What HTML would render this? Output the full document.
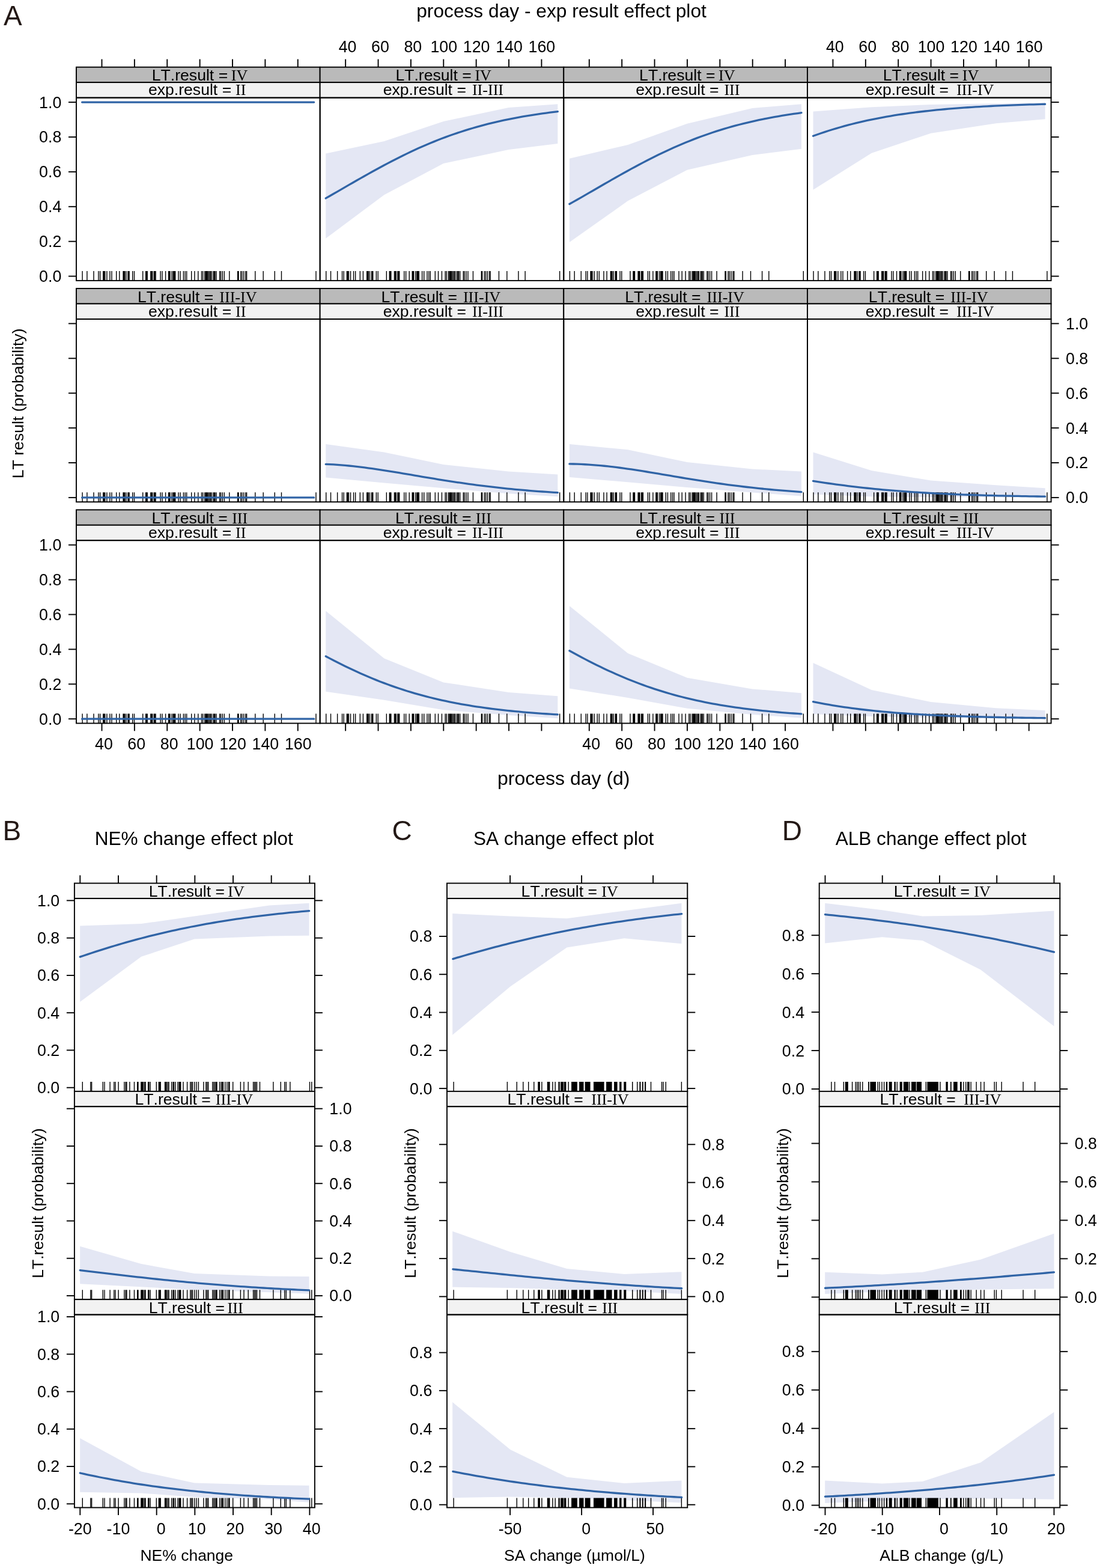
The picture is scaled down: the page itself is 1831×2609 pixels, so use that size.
<!DOCTYPE html>
<html><head><meta charset="utf-8"><title>Effect plots</title>
<style>html,body{margin:0;padding:0;background:#fff;overflow:hidden;} svg{display:block;} text{fill:#000;font-kerning:none;font-feature-settings:'kern' 0;}</style>
</head><body>
<svg width="1831" height="2609" viewBox="0 0 1831 2609"><rect x="127" y="111.7" width="405.65" height="25.45" fill="#bababa" stroke="#000" stroke-width="1.9"/>
<rect x="127" y="137.15" width="405.65" height="25.45" fill="#f2f2f2" stroke="#000" stroke-width="1.9"/>
<path d="M136.4 466.9H137.8V450.9H136.4ZM144.2 466.9H145.6V450.9H144.2ZM155.3 466.9H156.7V450.9H155.3ZM163.2 466.9H164.6V450.9H163.2ZM165.9 466.9H167.3V450.9H165.9ZM171.1 466.9H172.5V450.9H171.1ZM172.5 466.9H173.9V450.9H172.5ZM174.1 466.9H175.5V450.9H174.1ZM177.2 466.9H178.6V450.9H177.2ZM182.2 466.9H183.6V450.9H182.2ZM185.3 466.9H186.7V450.9H185.3ZM193 466.9H194.4V450.9H193ZM198.1 466.9H199.5V450.9H198.1ZM204.4 466.9H205.8V450.9H204.4ZM205.8 466.9H207.2V450.9H205.8ZM207 466.9H208.4V450.9H207ZM209.2 466.9H210.6V450.9H209.2ZM212.3 466.9H213.7V450.9H212.3ZM213.2 466.9H214.6V450.9H213.2ZM214.4 466.9H215.8V450.9H214.4ZM220 466.9H221.4V450.9H220ZM222.8 466.9H224.2V450.9H222.8ZM237 466.9H238.4V450.9H237ZM242 466.9H243.4V450.9H242ZM243.2 466.9H244.6V450.9H243.2ZM244.5 466.9H245.9V450.9H244.5ZM250.1 466.9H251.5V450.9H250.1ZM251.6 466.9H253V450.9H251.6ZM252.9 466.9H254.3V450.9H252.9ZM255.6 466.9H257V450.9H255.6ZM256.9 466.9H258.3V450.9H256.9ZM258.4 466.9H259.8V450.9H258.4ZM266.4 466.9H267.8V450.9H266.4ZM269.3 466.9H270.7V450.9H269.3ZM274.9 466.9H276.3V450.9H274.9ZM279.9 466.9H281.3V450.9H279.9ZM281.1 466.9H282.5V450.9H281.1ZM282.3 466.9H283.7V450.9H282.3ZM285.4 466.9H286.8V450.9H285.4ZM287.6 466.9H289V450.9H287.6ZM288.9 466.9H290.3V450.9H288.9ZM289.8 466.9H291.2V450.9H289.8ZM291 466.9H292.4V450.9H291ZM296.3 466.9H297.7V450.9H296.3ZM299.4 466.9H300.8V450.9H299.4ZM304.7 466.9H306.1V450.9H304.7ZM307.5 466.9H308.9V450.9H307.5ZM310 466.9H311.4V450.9H310ZM318 466.9H319.4V450.9H318ZM323.2 466.9H324.6V450.9H323.2ZM329.1 466.9H330.5V450.9H329.1ZM334.8 466.9H336.2V450.9H334.8ZM337 466.9H338.4V450.9H337ZM340.1 466.9H341.5V450.9H340.1ZM341.8 466.9H343.2V450.9H341.8ZM343.2 466.9H344.6V450.9H343.2ZM344.4 466.9H345.8V450.9H344.4ZM346 466.9H347.4V450.9H346ZM347.9 466.9H349.3V450.9H347.9ZM349.7 466.9H351.1V450.9H349.7ZM351.3 466.9H352.7V450.9H351.3ZM354.1 466.9H355.5V450.9H354.1ZM355.9 466.9H357.3V450.9H355.9ZM357.2 466.9H358.6V450.9H357.2ZM359.3 466.9H360.7V450.9H359.3ZM364.9 466.9H366.3V450.9H364.9ZM366.8 466.9H368.2V450.9H366.8ZM369.6 466.9H371V450.9H369.6ZM372.6 466.9H374V450.9H372.6ZM381.1 466.9H382.5V450.9H381.1ZM395 466.9H396.4V450.9H395ZM396.3 466.9H397.7V450.9H396.3ZM400 466.9H401.4V450.9H400ZM402.2 466.9H403.6V450.9H402.2ZM405 466.9H406.4V450.9H405ZM408.1 466.9H409.5V450.9H408.1ZM409.9 466.9H411.3V450.9H409.9ZM424.1 466.9H425.5V450.9H424.1ZM437.5 466.9H438.9V450.9H437.5ZM456.6 466.9H458V450.9H456.6ZM467.8 466.9H469.2V450.9H467.8ZM525.3 466.9H526.7V450.9H525.3Z" fill="#000" stroke="none"/>
<polyline points="136.6,170.1 143.03,170.1 149.47,170.1 155.91,170.1 162.34,170.1 168.78,170.1 175.21,170.1 181.64,170.1 188.08,170.1 194.51,170.1 200.95,170.1 207.38,170.1 213.82,170.1 220.25,170.1 226.69,170.1 233.12,170.1 239.56,170.1 246,170.1 252.43,170.1 258.87,170.1 265.3,170.1 271.74,170.1 278.17,170.1 284.61,170.1 291.04,170.1 297.48,170.1 303.91,170.1 310.34,170.1 316.78,170.1 323.21,170.1 329.65,170.1 336.08,170.1 342.52,170.1 348.95,170.1 355.39,170.1 361.82,170.1 368.26,170.1 374.69,170.1 381.13,170.1 387.56,170.1 394,170.1 400.44,170.1 406.87,170.1 413.31,170.1 419.74,170.1 426.18,170.1 432.61,170.1 439.04,170.1 445.48,170.1 451.91,170.1 458.35,170.1 464.79,170.1 471.22,170.1 477.66,170.1 484.09,170.1 490.52,170.1 496.96,170.1 503.39,170.1 509.83,170.1 516.26,170.1 522.7,170.1" fill="none" stroke="#3064a6" stroke-width="3.3" stroke-linecap="round" stroke-linejoin="round"/>
<rect x="127" y="162.6" width="405.65" height="304.3" fill="none" stroke="#000" stroke-width="1.9"/>
<text x="252.8" y="134.2" font-size="26.6" font-family="'Liberation Sans', Arial, Helvetica, sans-serif">LT.result =</text>
<text x="384.78" y="134.2" font-size="26.1" font-family="'Liberation Serif', 'Times New Roman', serif">IV</text>
<text x="246.96" y="158.4" font-size="26.6" font-family="'Liberation Sans', Arial, Helvetica, sans-serif">exp.result =</text>
<text x="391.98" y="158.4" font-size="26.1" font-family="'Liberation Serif', 'Times New Roman', serif">II</text>
<rect x="532.65" y="111.7" width="405.65" height="25.45" fill="#bababa" stroke="#000" stroke-width="1.9"/>
<rect x="532.65" y="137.15" width="405.65" height="25.45" fill="#f2f2f2" stroke="#000" stroke-width="1.9"/>
<polygon points="542.25,255.4 639.45,235.1 738.15,202 846.65,179.1 928.35,173.2 928.35,238.9 846.65,249.1 738.15,272 639.45,324.2 542.25,396.7" fill="#e4e7f4" stroke="none"/>
<path d="M542.05 466.9H543.45V450.9H542.05ZM549.85 466.9H551.25V450.9H549.85ZM560.95 466.9H562.35V450.9H560.95ZM568.85 466.9H570.25V450.9H568.85ZM571.55 466.9H572.95V450.9H571.55ZM576.75 466.9H578.15V450.9H576.75ZM578.15 466.9H579.55V450.9H578.15ZM579.75 466.9H581.15V450.9H579.75ZM582.85 466.9H584.25V450.9H582.85ZM587.85 466.9H589.25V450.9H587.85ZM590.95 466.9H592.35V450.9H590.95ZM598.65 466.9H600.05V450.9H598.65ZM603.75 466.9H605.15V450.9H603.75ZM610.05 466.9H611.45V450.9H610.05ZM611.45 466.9H612.85V450.9H611.45ZM612.65 466.9H614.05V450.9H612.65ZM614.85 466.9H616.25V450.9H614.85ZM617.95 466.9H619.35V450.9H617.95ZM618.85 466.9H620.25V450.9H618.85ZM620.05 466.9H621.45V450.9H620.05ZM625.65 466.9H627.05V450.9H625.65ZM628.45 466.9H629.85V450.9H628.45ZM642.65 466.9H644.05V450.9H642.65ZM647.65 466.9H649.05V450.9H647.65ZM648.85 466.9H650.25V450.9H648.85ZM650.15 466.9H651.55V450.9H650.15ZM655.75 466.9H657.15V450.9H655.75ZM657.25 466.9H658.65V450.9H657.25ZM658.55 466.9H659.95V450.9H658.55ZM661.25 466.9H662.65V450.9H661.25ZM662.55 466.9H663.95V450.9H662.55ZM664.05 466.9H665.45V450.9H664.05ZM672.05 466.9H673.45V450.9H672.05ZM674.95 466.9H676.35V450.9H674.95ZM680.55 466.9H681.95V450.9H680.55ZM685.55 466.9H686.95V450.9H685.55ZM686.75 466.9H688.15V450.9H686.75ZM687.95 466.9H689.35V450.9H687.95ZM691.05 466.9H692.45V450.9H691.05ZM693.25 466.9H694.65V450.9H693.25ZM694.55 466.9H695.95V450.9H694.55ZM695.45 466.9H696.85V450.9H695.45ZM696.65 466.9H698.05V450.9H696.65ZM701.95 466.9H703.35V450.9H701.95ZM705.05 466.9H706.45V450.9H705.05ZM710.35 466.9H711.75V450.9H710.35ZM713.15 466.9H714.55V450.9H713.15ZM715.65 466.9H717.05V450.9H715.65ZM723.65 466.9H725.05V450.9H723.65ZM728.85 466.9H730.25V450.9H728.85ZM734.75 466.9H736.15V450.9H734.75ZM740.45 466.9H741.85V450.9H740.45ZM742.65 466.9H744.05V450.9H742.65ZM745.75 466.9H747.15V450.9H745.75ZM747.45 466.9H748.85V450.9H747.45ZM748.85 466.9H750.25V450.9H748.85ZM750.05 466.9H751.45V450.9H750.05ZM751.65 466.9H753.05V450.9H751.65ZM753.55 466.9H754.95V450.9H753.55ZM755.35 466.9H756.75V450.9H755.35ZM756.95 466.9H758.35V450.9H756.95ZM759.75 466.9H761.15V450.9H759.75ZM761.55 466.9H762.95V450.9H761.55ZM762.85 466.9H764.25V450.9H762.85ZM764.95 466.9H766.35V450.9H764.95ZM770.55 466.9H771.95V450.9H770.55ZM772.45 466.9H773.85V450.9H772.45ZM775.25 466.9H776.65V450.9H775.25ZM778.25 466.9H779.65V450.9H778.25ZM786.75 466.9H788.15V450.9H786.75ZM800.65 466.9H802.05V450.9H800.65ZM801.95 466.9H803.35V450.9H801.95ZM805.65 466.9H807.05V450.9H805.65ZM807.85 466.9H809.25V450.9H807.85ZM810.65 466.9H812.05V450.9H810.65ZM813.75 466.9H815.15V450.9H813.75ZM815.55 466.9H816.95V450.9H815.55ZM829.75 466.9H831.15V450.9H829.75ZM843.15 466.9H844.55V450.9H843.15ZM862.25 466.9H863.65V450.9H862.25ZM873.45 466.9H874.85V450.9H873.45ZM930.95 466.9H932.35V450.9H930.95Z" fill="#000" stroke="none"/>
<polyline points="542.25,329.92 548.68,326.24 555.12,322.54 561.55,318.82 567.99,315.11 574.42,311.39 580.86,307.68 587.29,303.98 593.73,300.29 600.16,296.62 606.6,292.98 613.03,289.36 619.47,285.77 625.9,282.23 632.34,278.72 638.77,275.26 645.21,271.84 651.64,268.48 658.08,265.17 664.51,261.92 670.95,258.73 677.38,255.61 683.82,252.55 690.25,249.55 696.69,246.62 703.12,243.77 709.56,240.98 715.99,238.27 722.43,235.63 728.87,233.06 735.3,230.57 741.73,228.15 748.17,225.8 754.61,223.53 761.04,221.33 767.47,219.2 773.91,217.14 780.34,215.15 786.78,213.23 793.21,211.38 799.65,209.6 806.09,207.88 812.52,206.22 818.95,204.63 825.39,203.1 831.83,201.63 838.26,200.21 844.69,198.85 851.13,197.55 857.56,196.3 864,195.1 870.43,193.95 876.87,192.85 883.31,191.8 889.74,190.79 896.17,189.83 902.61,188.9 909.04,188.02 915.48,187.18 921.91,186.37 928.35,185.6" fill="none" stroke="#3064a6" stroke-width="3.3" stroke-linecap="round" stroke-linejoin="round"/>
<rect x="532.65" y="162.6" width="405.65" height="304.3" fill="none" stroke="#000" stroke-width="1.9"/>
<text x="658.45" y="134.2" font-size="26.6" font-family="'Liberation Sans', Arial, Helvetica, sans-serif">LT.result =</text>
<text x="790.43" y="134.2" font-size="26.1" font-family="'Liberation Serif', 'Times New Roman', serif">IV</text>
<text x="637.71" y="158.4" font-size="26.6" font-family="'Liberation Sans', Arial, Helvetica, sans-serif">exp.result =</text>
<text x="785.93" y="158.4" font-size="26.1" font-family="'Liberation Serif', 'Times New Roman', serif">II-III</text>
<rect x="938.3" y="111.7" width="405.65" height="25.45" fill="#bababa" stroke="#000" stroke-width="1.9"/>
<rect x="938.3" y="137.15" width="405.65" height="25.45" fill="#f2f2f2" stroke="#000" stroke-width="1.9"/>
<polygon points="947.9,263.8 1045.1,240.9 1143.8,205.8 1252.3,179.9 1334,173.2 1334,247.8 1252.3,258 1143.8,282.7 1045.1,334.3 947.9,403.1" fill="#e4e7f4" stroke="none"/>
<path d="M947.7 466.9H949.1V450.9H947.7ZM955.5 466.9H956.9V450.9H955.5ZM966.6 466.9H968V450.9H966.6ZM974.5 466.9H975.9V450.9H974.5ZM977.2 466.9H978.6V450.9H977.2ZM982.4 466.9H983.8V450.9H982.4ZM983.8 466.9H985.2V450.9H983.8ZM985.4 466.9H986.8V450.9H985.4ZM988.5 466.9H989.9V450.9H988.5ZM993.5 466.9H994.9V450.9H993.5ZM996.6 466.9H998V450.9H996.6ZM1004.3 466.9H1005.7V450.9H1004.3ZM1009.4 466.9H1010.8V450.9H1009.4ZM1015.7 466.9H1017.1V450.9H1015.7ZM1017.1 466.9H1018.5V450.9H1017.1ZM1018.3 466.9H1019.7V450.9H1018.3ZM1020.5 466.9H1021.9V450.9H1020.5ZM1023.6 466.9H1025V450.9H1023.6ZM1024.5 466.9H1025.9V450.9H1024.5ZM1025.7 466.9H1027.1V450.9H1025.7ZM1031.3 466.9H1032.7V450.9H1031.3ZM1034.1 466.9H1035.5V450.9H1034.1ZM1048.3 466.9H1049.7V450.9H1048.3ZM1053.3 466.9H1054.7V450.9H1053.3ZM1054.5 466.9H1055.9V450.9H1054.5ZM1055.8 466.9H1057.2V450.9H1055.8ZM1061.4 466.9H1062.8V450.9H1061.4ZM1062.9 466.9H1064.3V450.9H1062.9ZM1064.2 466.9H1065.6V450.9H1064.2ZM1066.9 466.9H1068.3V450.9H1066.9ZM1068.2 466.9H1069.6V450.9H1068.2ZM1069.7 466.9H1071.1V450.9H1069.7ZM1077.7 466.9H1079.1V450.9H1077.7ZM1080.6 466.9H1082V450.9H1080.6ZM1086.2 466.9H1087.6V450.9H1086.2ZM1091.2 466.9H1092.6V450.9H1091.2ZM1092.4 466.9H1093.8V450.9H1092.4ZM1093.6 466.9H1095V450.9H1093.6ZM1096.7 466.9H1098.1V450.9H1096.7ZM1098.9 466.9H1100.3V450.9H1098.9ZM1100.2 466.9H1101.6V450.9H1100.2ZM1101.1 466.9H1102.5V450.9H1101.1ZM1102.3 466.9H1103.7V450.9H1102.3ZM1107.6 466.9H1109V450.9H1107.6ZM1110.7 466.9H1112.1V450.9H1110.7ZM1116 466.9H1117.4V450.9H1116ZM1118.8 466.9H1120.2V450.9H1118.8ZM1121.3 466.9H1122.7V450.9H1121.3ZM1129.3 466.9H1130.7V450.9H1129.3ZM1134.5 466.9H1135.9V450.9H1134.5ZM1140.4 466.9H1141.8V450.9H1140.4ZM1146.1 466.9H1147.5V450.9H1146.1ZM1148.3 466.9H1149.7V450.9H1148.3ZM1151.4 466.9H1152.8V450.9H1151.4ZM1153.1 466.9H1154.5V450.9H1153.1ZM1154.5 466.9H1155.9V450.9H1154.5ZM1155.7 466.9H1157.1V450.9H1155.7ZM1157.3 466.9H1158.7V450.9H1157.3ZM1159.2 466.9H1160.6V450.9H1159.2ZM1161 466.9H1162.4V450.9H1161ZM1162.6 466.9H1164V450.9H1162.6ZM1165.4 466.9H1166.8V450.9H1165.4ZM1167.2 466.9H1168.6V450.9H1167.2ZM1168.5 466.9H1169.9V450.9H1168.5ZM1170.6 466.9H1172V450.9H1170.6ZM1176.2 466.9H1177.6V450.9H1176.2ZM1178.1 466.9H1179.5V450.9H1178.1ZM1180.9 466.9H1182.3V450.9H1180.9ZM1183.9 466.9H1185.3V450.9H1183.9ZM1192.4 466.9H1193.8V450.9H1192.4ZM1206.3 466.9H1207.7V450.9H1206.3ZM1207.6 466.9H1209V450.9H1207.6ZM1211.3 466.9H1212.7V450.9H1211.3ZM1213.5 466.9H1214.9V450.9H1213.5ZM1216.3 466.9H1217.7V450.9H1216.3ZM1219.4 466.9H1220.8V450.9H1219.4ZM1221.2 466.9H1222.6V450.9H1221.2ZM1235.4 466.9H1236.8V450.9H1235.4ZM1248.8 466.9H1250.2V450.9H1248.8ZM1267.9 466.9H1269.3V450.9H1267.9ZM1279.1 466.9H1280.5V450.9H1279.1ZM1336.6 466.9H1338V450.9H1336.6Z" fill="#000" stroke="none"/>
<polyline points="947.9,339.5 954.33,335.88 960.77,332.23 967.2,328.56 973.64,324.86 980.07,321.16 986.51,317.45 992.94,313.73 999.38,310.01 1005.81,306.3 1012.25,302.61 1018.68,298.93 1025.12,295.26 1031.55,291.63 1037.99,288.02 1044.42,284.45 1050.86,280.92 1057.29,277.43 1063.73,273.98 1070.16,270.59 1076.6,267.25 1083.03,263.96 1089.47,260.73 1095.9,257.56 1102.34,254.46 1108.77,251.43 1115.21,248.46 1121.64,245.56 1128.08,242.73 1134.51,239.97 1140.95,237.28 1147.38,234.67 1153.82,232.13 1160.25,229.66 1166.69,227.27 1173.12,224.95 1179.56,222.7 1185.99,220.53 1192.43,218.43 1198.87,216.39 1205.3,214.43 1211.73,212.54 1218.17,210.71 1224.61,208.95 1231.04,207.25 1237.47,205.62 1243.91,204.05 1250.34,202.54 1256.78,201.09 1263.21,199.7 1269.65,198.36 1276.09,197.08 1282.52,195.85 1288.95,194.67 1295.39,193.54 1301.82,192.46 1308.26,191.42 1314.69,190.43 1321.13,189.48 1327.57,188.57 1334,187.7" fill="none" stroke="#3064a6" stroke-width="3.3" stroke-linecap="round" stroke-linejoin="round"/>
<rect x="938.3" y="162.6" width="405.65" height="304.3" fill="none" stroke="#000" stroke-width="1.9"/>
<text x="1064.1" y="134.2" font-size="26.6" font-family="'Liberation Sans', Arial, Helvetica, sans-serif">LT.result =</text>
<text x="1196.08" y="134.2" font-size="26.1" font-family="'Liberation Serif', 'Times New Roman', serif">IV</text>
<text x="1058.26" y="158.4" font-size="26.6" font-family="'Liberation Sans', Arial, Helvetica, sans-serif">exp.result =</text>
<text x="1205.38" y="158.4" font-size="26.1" font-family="'Liberation Serif', 'Times New Roman', serif">III</text>
<rect x="1343.95" y="111.7" width="405.65" height="25.45" fill="#bababa" stroke="#000" stroke-width="1.9"/>
<rect x="1343.95" y="137.15" width="405.65" height="25.45" fill="#f2f2f2" stroke="#000" stroke-width="1.9"/>
<polygon points="1353.55,185.5 1450.75,178.3 1549.45,174 1657.95,172.2 1739.65,171.5 1739.65,198.2 1657.95,205.3 1549.45,221.8 1450.75,254.7 1353.55,315.8" fill="#e4e7f4" stroke="none"/>
<path d="M1353.35 466.9H1354.75V450.9H1353.35ZM1361.15 466.9H1362.55V450.9H1361.15ZM1372.25 466.9H1373.65V450.9H1372.25ZM1380.15 466.9H1381.55V450.9H1380.15ZM1382.85 466.9H1384.25V450.9H1382.85ZM1388.05 466.9H1389.45V450.9H1388.05ZM1389.45 466.9H1390.85V450.9H1389.45ZM1391.05 466.9H1392.45V450.9H1391.05ZM1394.15 466.9H1395.55V450.9H1394.15ZM1399.15 466.9H1400.55V450.9H1399.15ZM1402.25 466.9H1403.65V450.9H1402.25ZM1409.95 466.9H1411.35V450.9H1409.95ZM1415.05 466.9H1416.45V450.9H1415.05ZM1421.35 466.9H1422.75V450.9H1421.35ZM1422.75 466.9H1424.15V450.9H1422.75ZM1423.95 466.9H1425.35V450.9H1423.95ZM1426.15 466.9H1427.55V450.9H1426.15ZM1429.25 466.9H1430.65V450.9H1429.25ZM1430.15 466.9H1431.55V450.9H1430.15ZM1431.35 466.9H1432.75V450.9H1431.35ZM1436.95 466.9H1438.35V450.9H1436.95ZM1439.75 466.9H1441.15V450.9H1439.75ZM1453.95 466.9H1455.35V450.9H1453.95ZM1458.95 466.9H1460.35V450.9H1458.95ZM1460.15 466.9H1461.55V450.9H1460.15ZM1461.45 466.9H1462.85V450.9H1461.45ZM1467.05 466.9H1468.45V450.9H1467.05ZM1468.55 466.9H1469.95V450.9H1468.55ZM1469.85 466.9H1471.25V450.9H1469.85ZM1472.55 466.9H1473.95V450.9H1472.55ZM1473.85 466.9H1475.25V450.9H1473.85ZM1475.35 466.9H1476.75V450.9H1475.35ZM1483.35 466.9H1484.75V450.9H1483.35ZM1486.25 466.9H1487.65V450.9H1486.25ZM1491.85 466.9H1493.25V450.9H1491.85ZM1496.85 466.9H1498.25V450.9H1496.85ZM1498.05 466.9H1499.45V450.9H1498.05ZM1499.25 466.9H1500.65V450.9H1499.25ZM1502.35 466.9H1503.75V450.9H1502.35ZM1504.55 466.9H1505.95V450.9H1504.55ZM1505.85 466.9H1507.25V450.9H1505.85ZM1506.75 466.9H1508.15V450.9H1506.75ZM1507.95 466.9H1509.35V450.9H1507.95ZM1513.25 466.9H1514.65V450.9H1513.25ZM1516.35 466.9H1517.75V450.9H1516.35ZM1521.65 466.9H1523.05V450.9H1521.65ZM1524.45 466.9H1525.85V450.9H1524.45ZM1526.95 466.9H1528.35V450.9H1526.95ZM1534.95 466.9H1536.35V450.9H1534.95ZM1540.15 466.9H1541.55V450.9H1540.15ZM1546.05 466.9H1547.45V450.9H1546.05ZM1551.75 466.9H1553.15V450.9H1551.75ZM1553.95 466.9H1555.35V450.9H1553.95ZM1557.05 466.9H1558.45V450.9H1557.05ZM1558.75 466.9H1560.15V450.9H1558.75ZM1560.15 466.9H1561.55V450.9H1560.15ZM1561.35 466.9H1562.75V450.9H1561.35ZM1562.95 466.9H1564.35V450.9H1562.95ZM1564.85 466.9H1566.25V450.9H1564.85ZM1566.65 466.9H1568.05V450.9H1566.65ZM1568.25 466.9H1569.65V450.9H1568.25ZM1571.05 466.9H1572.45V450.9H1571.05ZM1572.85 466.9H1574.25V450.9H1572.85ZM1574.15 466.9H1575.55V450.9H1574.15ZM1576.25 466.9H1577.65V450.9H1576.25ZM1581.85 466.9H1583.25V450.9H1581.85ZM1583.75 466.9H1585.15V450.9H1583.75ZM1586.55 466.9H1587.95V450.9H1586.55ZM1589.55 466.9H1590.95V450.9H1589.55ZM1598.05 466.9H1599.45V450.9H1598.05ZM1611.95 466.9H1613.35V450.9H1611.95ZM1613.25 466.9H1614.65V450.9H1613.25ZM1616.95 466.9H1618.35V450.9H1616.95ZM1619.15 466.9H1620.55V450.9H1619.15ZM1621.95 466.9H1623.35V450.9H1621.95ZM1625.05 466.9H1626.45V450.9H1625.05ZM1626.85 466.9H1628.25V450.9H1626.85ZM1641.05 466.9H1642.45V450.9H1641.05ZM1654.45 466.9H1655.85V450.9H1654.45ZM1673.55 466.9H1674.95V450.9H1673.55ZM1684.75 466.9H1686.15V450.9H1684.75ZM1742.25 466.9H1743.65V450.9H1742.25Z" fill="#000" stroke="none"/>
<polyline points="1353.55,226.23 1359.98,223.94 1366.42,221.73 1372.85,219.58 1379.29,217.51 1385.72,215.51 1392.16,213.58 1398.59,211.72 1405.03,209.92 1411.46,208.19 1417.9,206.52 1424.33,204.92 1430.77,203.37 1437.2,201.89 1443.64,200.47 1450.07,199.1 1456.51,197.79 1462.94,196.53 1469.38,195.32 1475.81,194.16 1482.25,193.05 1488.68,191.99 1495.12,190.97 1501.55,190 1507.99,189.07 1514.42,188.18 1520.86,187.33 1527.29,186.51 1533.73,185.74 1540.16,184.99 1546.6,184.29 1553.03,183.61 1559.47,182.96 1565.9,182.35 1572.34,181.76 1578.77,181.2 1585.21,180.66 1591.64,180.15 1598.08,179.66 1604.51,179.2 1610.95,178.76 1617.38,178.34 1623.82,177.94 1630.25,177.55 1636.69,177.19 1643.12,176.84 1649.56,176.51 1655.99,176.2 1662.43,175.9 1668.86,175.61 1675.3,175.34 1681.73,175.09 1688.17,174.84 1694.6,174.61 1701.04,174.38 1707.47,174.17 1713.91,173.97 1720.34,173.78 1726.78,173.6 1733.21,173.43 1739.65,173.26" fill="none" stroke="#3064a6" stroke-width="3.3" stroke-linecap="round" stroke-linejoin="round"/>
<rect x="1343.95" y="162.6" width="405.65" height="304.3" fill="none" stroke="#000" stroke-width="1.9"/>
<text x="1469.75" y="134.2" font-size="26.6" font-family="'Liberation Sans', Arial, Helvetica, sans-serif">LT.result =</text>
<text x="1601.73" y="134.2" font-size="26.1" font-family="'Liberation Serif', 'Times New Roman', serif">IV</text>
<text x="1440.81" y="158.4" font-size="26.6" font-family="'Liberation Sans', Arial, Helvetica, sans-serif">exp.result =</text>
<text x="1592.13" y="158.4" font-size="26.1" font-family="'Liberation Serif', 'Times New Roman', serif">III-IV</text>
<rect x="127" y="480" width="405.65" height="25.45" fill="#bababa" stroke="#000" stroke-width="1.9"/>
<rect x="127" y="505.45" width="405.65" height="25.45" fill="#f2f2f2" stroke="#000" stroke-width="1.9"/>
<path d="M136.4 835.2H137.8V819.2H136.4ZM144.2 835.2H145.6V819.2H144.2ZM155.3 835.2H156.7V819.2H155.3ZM163.2 835.2H164.6V819.2H163.2ZM165.9 835.2H167.3V819.2H165.9ZM171.1 835.2H172.5V819.2H171.1ZM172.5 835.2H173.9V819.2H172.5ZM174.1 835.2H175.5V819.2H174.1ZM177.2 835.2H178.6V819.2H177.2ZM182.2 835.2H183.6V819.2H182.2ZM185.3 835.2H186.7V819.2H185.3ZM193 835.2H194.4V819.2H193ZM198.1 835.2H199.5V819.2H198.1ZM204.4 835.2H205.8V819.2H204.4ZM205.8 835.2H207.2V819.2H205.8ZM207 835.2H208.4V819.2H207ZM209.2 835.2H210.6V819.2H209.2ZM212.3 835.2H213.7V819.2H212.3ZM213.2 835.2H214.6V819.2H213.2ZM214.4 835.2H215.8V819.2H214.4ZM220 835.2H221.4V819.2H220ZM222.8 835.2H224.2V819.2H222.8ZM237 835.2H238.4V819.2H237ZM242 835.2H243.4V819.2H242ZM243.2 835.2H244.6V819.2H243.2ZM244.5 835.2H245.9V819.2H244.5ZM250.1 835.2H251.5V819.2H250.1ZM251.6 835.2H253V819.2H251.6ZM252.9 835.2H254.3V819.2H252.9ZM255.6 835.2H257V819.2H255.6ZM256.9 835.2H258.3V819.2H256.9ZM258.4 835.2H259.8V819.2H258.4ZM266.4 835.2H267.8V819.2H266.4ZM269.3 835.2H270.7V819.2H269.3ZM274.9 835.2H276.3V819.2H274.9ZM279.9 835.2H281.3V819.2H279.9ZM281.1 835.2H282.5V819.2H281.1ZM282.3 835.2H283.7V819.2H282.3ZM285.4 835.2H286.8V819.2H285.4ZM287.6 835.2H289V819.2H287.6ZM288.9 835.2H290.3V819.2H288.9ZM289.8 835.2H291.2V819.2H289.8ZM291 835.2H292.4V819.2H291ZM296.3 835.2H297.7V819.2H296.3ZM299.4 835.2H300.8V819.2H299.4ZM304.7 835.2H306.1V819.2H304.7ZM307.5 835.2H308.9V819.2H307.5ZM310 835.2H311.4V819.2H310ZM318 835.2H319.4V819.2H318ZM323.2 835.2H324.6V819.2H323.2ZM329.1 835.2H330.5V819.2H329.1ZM334.8 835.2H336.2V819.2H334.8ZM337 835.2H338.4V819.2H337ZM340.1 835.2H341.5V819.2H340.1ZM341.8 835.2H343.2V819.2H341.8ZM343.2 835.2H344.6V819.2H343.2ZM344.4 835.2H345.8V819.2H344.4ZM346 835.2H347.4V819.2H346ZM347.9 835.2H349.3V819.2H347.9ZM349.7 835.2H351.1V819.2H349.7ZM351.3 835.2H352.7V819.2H351.3ZM354.1 835.2H355.5V819.2H354.1ZM355.9 835.2H357.3V819.2H355.9ZM357.2 835.2H358.6V819.2H357.2ZM359.3 835.2H360.7V819.2H359.3ZM364.9 835.2H366.3V819.2H364.9ZM366.8 835.2H368.2V819.2H366.8ZM369.6 835.2H371V819.2H369.6ZM372.6 835.2H374V819.2H372.6ZM381.1 835.2H382.5V819.2H381.1ZM395 835.2H396.4V819.2H395ZM396.3 835.2H397.7V819.2H396.3ZM400 835.2H401.4V819.2H400ZM402.2 835.2H403.6V819.2H402.2ZM405 835.2H406.4V819.2H405ZM408.1 835.2H409.5V819.2H408.1ZM409.9 835.2H411.3V819.2H409.9ZM424.1 835.2H425.5V819.2H424.1ZM437.5 835.2H438.9V819.2H437.5ZM456.6 835.2H458V819.2H456.6ZM467.8 835.2H469.2V819.2H467.8ZM525.3 835.2H526.7V819.2H525.3Z" fill="#000" stroke="none"/>
<polyline points="136.6,827.9 143.03,827.9 149.47,827.9 155.91,827.9 162.34,827.9 168.78,827.9 175.21,827.9 181.64,827.9 188.08,827.9 194.51,827.9 200.95,827.9 207.38,827.9 213.82,827.9 220.25,827.9 226.69,827.9 233.12,827.9 239.56,827.9 246,827.9 252.43,827.9 258.87,827.9 265.3,827.9 271.74,827.9 278.17,827.9 284.61,827.9 291.04,827.9 297.48,827.9 303.91,827.9 310.34,827.9 316.78,827.9 323.21,827.9 329.65,827.9 336.08,827.9 342.52,827.9 348.95,827.9 355.39,827.9 361.82,827.9 368.26,827.9 374.69,827.9 381.13,827.9 387.56,827.9 394,827.9 400.44,827.9 406.87,827.9 413.31,827.9 419.74,827.9 426.18,827.9 432.61,827.9 439.04,827.9 445.48,827.9 451.91,827.9 458.35,827.9 464.79,827.9 471.22,827.9 477.66,827.9 484.09,827.9 490.52,827.9 496.96,827.9 503.39,827.9 509.83,827.9 516.26,827.9 522.7,827.9" fill="none" stroke="#3064a6" stroke-width="3.3" stroke-linecap="round" stroke-linejoin="round"/>
<rect x="127" y="530.9" width="405.65" height="304.3" fill="none" stroke="#000" stroke-width="1.9"/>
<text x="228.9" y="502.5" font-size="26.6" font-family="'Liberation Sans', Arial, Helvetica, sans-serif">LT.result =</text>
<text x="365.28" y="502.5" font-size="26.1" font-family="'Liberation Serif', 'Times New Roman', serif">III-IV</text>
<text x="246.96" y="526.7" font-size="26.6" font-family="'Liberation Sans', Arial, Helvetica, sans-serif">exp.result =</text>
<text x="391.98" y="526.7" font-size="26.1" font-family="'Liberation Serif', 'Times New Roman', serif">II</text>
<rect x="532.65" y="480" width="405.65" height="25.45" fill="#bababa" stroke="#000" stroke-width="1.9"/>
<rect x="532.65" y="505.45" width="405.65" height="25.45" fill="#f2f2f2" stroke="#000" stroke-width="1.9"/>
<polygon points="542.25,739 639.45,752.5 738.15,772.9 846.65,784.4 928.35,789.4 928.35,826.3 846.65,821.3 738.15,812.3 639.45,803.4 542.25,794.5" fill="#e4e7f4" stroke="none"/>
<path d="M542.05 835.2H543.45V819.2H542.05ZM549.85 835.2H551.25V819.2H549.85ZM560.95 835.2H562.35V819.2H560.95ZM568.85 835.2H570.25V819.2H568.85ZM571.55 835.2H572.95V819.2H571.55ZM576.75 835.2H578.15V819.2H576.75ZM578.15 835.2H579.55V819.2H578.15ZM579.75 835.2H581.15V819.2H579.75ZM582.85 835.2H584.25V819.2H582.85ZM587.85 835.2H589.25V819.2H587.85ZM590.95 835.2H592.35V819.2H590.95ZM598.65 835.2H600.05V819.2H598.65ZM603.75 835.2H605.15V819.2H603.75ZM610.05 835.2H611.45V819.2H610.05ZM611.45 835.2H612.85V819.2H611.45ZM612.65 835.2H614.05V819.2H612.65ZM614.85 835.2H616.25V819.2H614.85ZM617.95 835.2H619.35V819.2H617.95ZM618.85 835.2H620.25V819.2H618.85ZM620.05 835.2H621.45V819.2H620.05ZM625.65 835.2H627.05V819.2H625.65ZM628.45 835.2H629.85V819.2H628.45ZM642.65 835.2H644.05V819.2H642.65ZM647.65 835.2H649.05V819.2H647.65ZM648.85 835.2H650.25V819.2H648.85ZM650.15 835.2H651.55V819.2H650.15ZM655.75 835.2H657.15V819.2H655.75ZM657.25 835.2H658.65V819.2H657.25ZM658.55 835.2H659.95V819.2H658.55ZM661.25 835.2H662.65V819.2H661.25ZM662.55 835.2H663.95V819.2H662.55ZM664.05 835.2H665.45V819.2H664.05ZM672.05 835.2H673.45V819.2H672.05ZM674.95 835.2H676.35V819.2H674.95ZM680.55 835.2H681.95V819.2H680.55ZM685.55 835.2H686.95V819.2H685.55ZM686.75 835.2H688.15V819.2H686.75ZM687.95 835.2H689.35V819.2H687.95ZM691.05 835.2H692.45V819.2H691.05ZM693.25 835.2H694.65V819.2H693.25ZM694.55 835.2H695.95V819.2H694.55ZM695.45 835.2H696.85V819.2H695.45ZM696.65 835.2H698.05V819.2H696.65ZM701.95 835.2H703.35V819.2H701.95ZM705.05 835.2H706.45V819.2H705.05ZM710.35 835.2H711.75V819.2H710.35ZM713.15 835.2H714.55V819.2H713.15ZM715.65 835.2H717.05V819.2H715.65ZM723.65 835.2H725.05V819.2H723.65ZM728.85 835.2H730.25V819.2H728.85ZM734.75 835.2H736.15V819.2H734.75ZM740.45 835.2H741.85V819.2H740.45ZM742.65 835.2H744.05V819.2H742.65ZM745.75 835.2H747.15V819.2H745.75ZM747.45 835.2H748.85V819.2H747.45ZM748.85 835.2H750.25V819.2H748.85ZM750.05 835.2H751.45V819.2H750.05ZM751.65 835.2H753.05V819.2H751.65ZM753.55 835.2H754.95V819.2H753.55ZM755.35 835.2H756.75V819.2H755.35ZM756.95 835.2H758.35V819.2H756.95ZM759.75 835.2H761.15V819.2H759.75ZM761.55 835.2H762.95V819.2H761.55ZM762.85 835.2H764.25V819.2H762.85ZM764.95 835.2H766.35V819.2H764.95ZM770.55 835.2H771.95V819.2H770.55ZM772.45 835.2H773.85V819.2H772.45ZM775.25 835.2H776.65V819.2H775.25ZM778.25 835.2H779.65V819.2H778.25ZM786.75 835.2H788.15V819.2H786.75ZM800.65 835.2H802.05V819.2H800.65ZM801.95 835.2H803.35V819.2H801.95ZM805.65 835.2H807.05V819.2H805.65ZM807.85 835.2H809.25V819.2H807.85ZM810.65 835.2H812.05V819.2H810.65ZM813.75 835.2H815.15V819.2H813.75ZM815.55 835.2H816.95V819.2H815.55ZM829.75 835.2H831.15V819.2H829.75ZM843.15 835.2H844.55V819.2H843.15ZM862.25 835.2H863.65V819.2H862.25ZM873.45 835.2H874.85V819.2H873.45ZM930.95 835.2H932.35V819.2H930.95Z" fill="#000" stroke="none"/>
<polyline points="542.25,772.32 548.68,772.61 555.12,772.96 561.55,773.38 567.99,773.86 574.42,774.4 580.86,775.01 587.29,775.66 593.73,776.38 600.16,777.14 606.6,777.95 613.03,778.8 619.47,779.69 625.9,780.62 632.34,781.58 638.77,782.56 645.21,783.58 651.64,784.61 658.08,785.66 664.51,786.73 670.95,787.81 677.38,788.9 683.82,789.99 690.25,791.08 696.69,792.18 703.12,793.26 709.56,794.35 715.99,795.42 722.43,796.49 728.87,797.54 735.3,798.57 741.73,799.6 748.17,800.6 754.61,801.58 761.04,802.55 767.47,803.49 773.91,804.42 780.34,805.32 786.78,806.2 793.21,807.05 799.65,807.88 806.09,808.69 812.52,809.47 818.95,810.23 825.39,810.96 831.83,811.67 838.26,812.36 844.69,813.02 851.13,813.66 857.56,814.28 864,814.88 870.43,815.45 876.87,816 883.31,816.53 889.74,817.04 896.17,817.53 902.61,818 909.04,818.45 915.48,818.88 921.91,819.29 928.35,819.69" fill="none" stroke="#3064a6" stroke-width="3.3" stroke-linecap="round" stroke-linejoin="round"/>
<rect x="532.65" y="530.9" width="405.65" height="304.3" fill="none" stroke="#000" stroke-width="1.9"/>
<text x="634.55" y="502.5" font-size="26.6" font-family="'Liberation Sans', Arial, Helvetica, sans-serif">LT.result =</text>
<text x="770.93" y="502.5" font-size="26.1" font-family="'Liberation Serif', 'Times New Roman', serif">III-IV</text>
<text x="637.71" y="526.7" font-size="26.6" font-family="'Liberation Sans', Arial, Helvetica, sans-serif">exp.result =</text>
<text x="785.93" y="526.7" font-size="26.1" font-family="'Liberation Serif', 'Times New Roman', serif">II-III</text>
<rect x="938.3" y="480" width="405.65" height="25.45" fill="#bababa" stroke="#000" stroke-width="1.9"/>
<rect x="938.3" y="505.45" width="405.65" height="25.45" fill="#f2f2f2" stroke="#000" stroke-width="1.9"/>
<polygon points="947.9,739 1045.1,748.2 1143.8,769.1 1252.3,780.5 1334,784.4 1334,825.6 1252.3,819.5 1143.8,811.1 1045.1,802.2 947.9,794" fill="#e4e7f4" stroke="none"/>
<path d="M947.7 835.2H949.1V819.2H947.7ZM955.5 835.2H956.9V819.2H955.5ZM966.6 835.2H968V819.2H966.6ZM974.5 835.2H975.9V819.2H974.5ZM977.2 835.2H978.6V819.2H977.2ZM982.4 835.2H983.8V819.2H982.4ZM983.8 835.2H985.2V819.2H983.8ZM985.4 835.2H986.8V819.2H985.4ZM988.5 835.2H989.9V819.2H988.5ZM993.5 835.2H994.9V819.2H993.5ZM996.6 835.2H998V819.2H996.6ZM1004.3 835.2H1005.7V819.2H1004.3ZM1009.4 835.2H1010.8V819.2H1009.4ZM1015.7 835.2H1017.1V819.2H1015.7ZM1017.1 835.2H1018.5V819.2H1017.1ZM1018.3 835.2H1019.7V819.2H1018.3ZM1020.5 835.2H1021.9V819.2H1020.5ZM1023.6 835.2H1025V819.2H1023.6ZM1024.5 835.2H1025.9V819.2H1024.5ZM1025.7 835.2H1027.1V819.2H1025.7ZM1031.3 835.2H1032.7V819.2H1031.3ZM1034.1 835.2H1035.5V819.2H1034.1ZM1048.3 835.2H1049.7V819.2H1048.3ZM1053.3 835.2H1054.7V819.2H1053.3ZM1054.5 835.2H1055.9V819.2H1054.5ZM1055.8 835.2H1057.2V819.2H1055.8ZM1061.4 835.2H1062.8V819.2H1061.4ZM1062.9 835.2H1064.3V819.2H1062.9ZM1064.2 835.2H1065.6V819.2H1064.2ZM1066.9 835.2H1068.3V819.2H1066.9ZM1068.2 835.2H1069.6V819.2H1068.2ZM1069.7 835.2H1071.1V819.2H1069.7ZM1077.7 835.2H1079.1V819.2H1077.7ZM1080.6 835.2H1082V819.2H1080.6ZM1086.2 835.2H1087.6V819.2H1086.2ZM1091.2 835.2H1092.6V819.2H1091.2ZM1092.4 835.2H1093.8V819.2H1092.4ZM1093.6 835.2H1095V819.2H1093.6ZM1096.7 835.2H1098.1V819.2H1096.7ZM1098.9 835.2H1100.3V819.2H1098.9ZM1100.2 835.2H1101.6V819.2H1100.2ZM1101.1 835.2H1102.5V819.2H1101.1ZM1102.3 835.2H1103.7V819.2H1102.3ZM1107.6 835.2H1109V819.2H1107.6ZM1110.7 835.2H1112.1V819.2H1110.7ZM1116 835.2H1117.4V819.2H1116ZM1118.8 835.2H1120.2V819.2H1118.8ZM1121.3 835.2H1122.7V819.2H1121.3ZM1129.3 835.2H1130.7V819.2H1129.3ZM1134.5 835.2H1135.9V819.2H1134.5ZM1140.4 835.2H1141.8V819.2H1140.4ZM1146.1 835.2H1147.5V819.2H1146.1ZM1148.3 835.2H1149.7V819.2H1148.3ZM1151.4 835.2H1152.8V819.2H1151.4ZM1153.1 835.2H1154.5V819.2H1153.1ZM1154.5 835.2H1155.9V819.2H1154.5ZM1155.7 835.2H1157.1V819.2H1155.7ZM1157.3 835.2H1158.7V819.2H1157.3ZM1159.2 835.2H1160.6V819.2H1159.2ZM1161 835.2H1162.4V819.2H1161ZM1162.6 835.2H1164V819.2H1162.6ZM1165.4 835.2H1166.8V819.2H1165.4ZM1167.2 835.2H1168.6V819.2H1167.2ZM1168.5 835.2H1169.9V819.2H1168.5ZM1170.6 835.2H1172V819.2H1170.6ZM1176.2 835.2H1177.6V819.2H1176.2ZM1178.1 835.2H1179.5V819.2H1178.1ZM1180.9 835.2H1182.3V819.2H1180.9ZM1183.9 835.2H1185.3V819.2H1183.9ZM1192.4 835.2H1193.8V819.2H1192.4ZM1206.3 835.2H1207.7V819.2H1206.3ZM1207.6 835.2H1209V819.2H1207.6ZM1211.3 835.2H1212.7V819.2H1211.3ZM1213.5 835.2H1214.9V819.2H1213.5ZM1216.3 835.2H1217.7V819.2H1216.3ZM1219.4 835.2H1220.8V819.2H1219.4ZM1221.2 835.2H1222.6V819.2H1221.2ZM1235.4 835.2H1236.8V819.2H1235.4ZM1248.8 835.2H1250.2V819.2H1248.8ZM1267.9 835.2H1269.3V819.2H1267.9ZM1279.1 835.2H1280.5V819.2H1279.1ZM1336.6 835.2H1338V819.2H1336.6Z" fill="#000" stroke="none"/>
<polyline points="947.9,771.9 954.33,772.01 960.77,772.18 967.2,772.42 973.64,772.73 980.07,773.11 986.51,773.55 992.94,774.06 999.38,774.62 1005.81,775.24 1012.25,775.92 1018.68,776.65 1025.12,777.43 1031.55,778.26 1037.99,779.12 1044.42,780.03 1050.86,780.97 1057.29,781.94 1063.73,782.94 1070.16,783.96 1076.6,785 1083.03,786.06 1089.47,787.13 1095.9,788.21 1102.34,789.3 1108.77,790.4 1115.21,791.49 1121.64,792.58 1128.08,793.67 1134.51,794.75 1140.95,795.82 1147.38,796.88 1153.82,797.92 1160.25,798.96 1166.69,799.97 1173.12,800.97 1179.56,801.95 1185.99,802.9 1192.43,803.84 1198.87,804.75 1205.3,805.65 1211.73,806.52 1218.17,807.36 1224.61,808.18 1231.04,808.98 1237.47,809.75 1243.91,810.5 1250.34,811.23 1256.78,811.93 1263.21,812.61 1269.65,813.26 1276.09,813.9 1282.52,814.5 1288.95,815.09 1295.39,815.65 1301.82,816.2 1308.26,816.72 1314.69,817.22 1321.13,817.7 1327.57,818.17 1334,818.61" fill="none" stroke="#3064a6" stroke-width="3.3" stroke-linecap="round" stroke-linejoin="round"/>
<rect x="938.3" y="530.9" width="405.65" height="304.3" fill="none" stroke="#000" stroke-width="1.9"/>
<text x="1040.2" y="502.5" font-size="26.6" font-family="'Liberation Sans', Arial, Helvetica, sans-serif">LT.result =</text>
<text x="1176.58" y="502.5" font-size="26.1" font-family="'Liberation Serif', 'Times New Roman', serif">III-IV</text>
<text x="1058.26" y="526.7" font-size="26.6" font-family="'Liberation Sans', Arial, Helvetica, sans-serif">exp.result =</text>
<text x="1205.38" y="526.7" font-size="26.1" font-family="'Liberation Serif', 'Times New Roman', serif">III</text>
<rect x="1343.95" y="480" width="405.65" height="25.45" fill="#bababa" stroke="#000" stroke-width="1.9"/>
<rect x="1343.95" y="505.45" width="405.65" height="25.45" fill="#f2f2f2" stroke="#000" stroke-width="1.9"/>
<polygon points="1353.55,752.5 1450.75,783.1 1549.45,799.6 1657.95,807.3 1739.65,812.3 1739.65,827.6 1657.95,827.6 1549.45,827.1 1450.75,826.3 1353.55,822.5" fill="#e4e7f4" stroke="none"/>
<path d="M1353.35 835.2H1354.75V819.2H1353.35ZM1361.15 835.2H1362.55V819.2H1361.15ZM1372.25 835.2H1373.65V819.2H1372.25ZM1380.15 835.2H1381.55V819.2H1380.15ZM1382.85 835.2H1384.25V819.2H1382.85ZM1388.05 835.2H1389.45V819.2H1388.05ZM1389.45 835.2H1390.85V819.2H1389.45ZM1391.05 835.2H1392.45V819.2H1391.05ZM1394.15 835.2H1395.55V819.2H1394.15ZM1399.15 835.2H1400.55V819.2H1399.15ZM1402.25 835.2H1403.65V819.2H1402.25ZM1409.95 835.2H1411.35V819.2H1409.95ZM1415.05 835.2H1416.45V819.2H1415.05ZM1421.35 835.2H1422.75V819.2H1421.35ZM1422.75 835.2H1424.15V819.2H1422.75ZM1423.95 835.2H1425.35V819.2H1423.95ZM1426.15 835.2H1427.55V819.2H1426.15ZM1429.25 835.2H1430.65V819.2H1429.25ZM1430.15 835.2H1431.55V819.2H1430.15ZM1431.35 835.2H1432.75V819.2H1431.35ZM1436.95 835.2H1438.35V819.2H1436.95ZM1439.75 835.2H1441.15V819.2H1439.75ZM1453.95 835.2H1455.35V819.2H1453.95ZM1458.95 835.2H1460.35V819.2H1458.95ZM1460.15 835.2H1461.55V819.2H1460.15ZM1461.45 835.2H1462.85V819.2H1461.45ZM1467.05 835.2H1468.45V819.2H1467.05ZM1468.55 835.2H1469.95V819.2H1468.55ZM1469.85 835.2H1471.25V819.2H1469.85ZM1472.55 835.2H1473.95V819.2H1472.55ZM1473.85 835.2H1475.25V819.2H1473.85ZM1475.35 835.2H1476.75V819.2H1475.35ZM1483.35 835.2H1484.75V819.2H1483.35ZM1486.25 835.2H1487.65V819.2H1486.25ZM1491.85 835.2H1493.25V819.2H1491.85ZM1496.85 835.2H1498.25V819.2H1496.85ZM1498.05 835.2H1499.45V819.2H1498.05ZM1499.25 835.2H1500.65V819.2H1499.25ZM1502.35 835.2H1503.75V819.2H1502.35ZM1504.55 835.2H1505.95V819.2H1504.55ZM1505.85 835.2H1507.25V819.2H1505.85ZM1506.75 835.2H1508.15V819.2H1506.75ZM1507.95 835.2H1509.35V819.2H1507.95ZM1513.25 835.2H1514.65V819.2H1513.25ZM1516.35 835.2H1517.75V819.2H1516.35ZM1521.65 835.2H1523.05V819.2H1521.65ZM1524.45 835.2H1525.85V819.2H1524.45ZM1526.95 835.2H1528.35V819.2H1526.95ZM1534.95 835.2H1536.35V819.2H1534.95ZM1540.15 835.2H1541.55V819.2H1540.15ZM1546.05 835.2H1547.45V819.2H1546.05ZM1551.75 835.2H1553.15V819.2H1551.75ZM1553.95 835.2H1555.35V819.2H1553.95ZM1557.05 835.2H1558.45V819.2H1557.05ZM1558.75 835.2H1560.15V819.2H1558.75ZM1560.15 835.2H1561.55V819.2H1560.15ZM1561.35 835.2H1562.75V819.2H1561.35ZM1562.95 835.2H1564.35V819.2H1562.95ZM1564.85 835.2H1566.25V819.2H1564.85ZM1566.65 835.2H1568.05V819.2H1566.65ZM1568.25 835.2H1569.65V819.2H1568.25ZM1571.05 835.2H1572.45V819.2H1571.05ZM1572.85 835.2H1574.25V819.2H1572.85ZM1574.15 835.2H1575.55V819.2H1574.15ZM1576.25 835.2H1577.65V819.2H1576.25ZM1581.85 835.2H1583.25V819.2H1581.85ZM1583.75 835.2H1585.15V819.2H1583.75ZM1586.55 835.2H1587.95V819.2H1586.55ZM1589.55 835.2H1590.95V819.2H1589.55ZM1598.05 835.2H1599.45V819.2H1598.05ZM1611.95 835.2H1613.35V819.2H1611.95ZM1613.25 835.2H1614.65V819.2H1613.25ZM1616.95 835.2H1618.35V819.2H1616.95ZM1619.15 835.2H1620.55V819.2H1619.15ZM1621.95 835.2H1623.35V819.2H1621.95ZM1625.05 835.2H1626.45V819.2H1625.05ZM1626.85 835.2H1628.25V819.2H1626.85ZM1641.05 835.2H1642.45V819.2H1641.05ZM1654.45 835.2H1655.85V819.2H1654.45ZM1673.55 835.2H1674.95V819.2H1673.55ZM1684.75 835.2H1686.15V819.2H1684.75ZM1742.25 835.2H1743.65V819.2H1742.25Z" fill="#000" stroke="none"/>
<polyline points="1353.55,800.42 1359.98,801.41 1366.42,802.37 1372.85,803.32 1379.29,804.25 1385.72,805.15 1392.16,806.04 1398.59,806.9 1405.03,807.73 1411.46,808.54 1417.9,809.33 1424.33,810.09 1430.77,810.83 1437.2,811.55 1443.64,812.24 1450.07,812.9 1456.51,813.55 1462.94,814.17 1469.38,814.77 1475.81,815.34 1482.25,815.9 1488.68,816.43 1495.12,816.95 1501.55,817.44 1507.99,817.91 1514.42,818.37 1520.86,818.8 1527.29,819.22 1533.73,819.62 1540.16,820 1546.6,820.37 1553.03,820.72 1559.47,821.06 1565.9,821.38 1572.34,821.68 1578.77,821.98 1585.21,822.26 1591.64,822.53 1598.08,822.78 1604.51,823.03 1610.95,823.26 1617.38,823.48 1623.82,823.7 1630.25,823.9 1636.69,824.09 1643.12,824.28 1649.56,824.45 1655.99,824.62 1662.43,824.78 1668.86,824.93 1675.3,825.07 1681.73,825.21 1688.17,825.34 1694.6,825.47 1701.04,825.59 1707.47,825.7 1713.91,825.81 1720.34,825.91 1726.78,826.01 1733.21,826.1 1739.65,826.19" fill="none" stroke="#3064a6" stroke-width="3.3" stroke-linecap="round" stroke-linejoin="round"/>
<rect x="1343.95" y="530.9" width="405.65" height="304.3" fill="none" stroke="#000" stroke-width="1.9"/>
<text x="1445.85" y="502.5" font-size="26.6" font-family="'Liberation Sans', Arial, Helvetica, sans-serif">LT.result =</text>
<text x="1582.23" y="502.5" font-size="26.1" font-family="'Liberation Serif', 'Times New Roman', serif">III-IV</text>
<text x="1440.81" y="526.7" font-size="26.6" font-family="'Liberation Sans', Arial, Helvetica, sans-serif">exp.result =</text>
<text x="1592.13" y="526.7" font-size="26.1" font-family="'Liberation Serif', 'Times New Roman', serif">III-IV</text>
<rect x="127" y="848.3" width="405.65" height="25.45" fill="#bababa" stroke="#000" stroke-width="1.9"/>
<rect x="127" y="873.75" width="405.65" height="25.45" fill="#f2f2f2" stroke="#000" stroke-width="1.9"/>
<path d="M136.4 1203.5H137.8V1187.5H136.4ZM144.2 1203.5H145.6V1187.5H144.2ZM155.3 1203.5H156.7V1187.5H155.3ZM163.2 1203.5H164.6V1187.5H163.2ZM165.9 1203.5H167.3V1187.5H165.9ZM171.1 1203.5H172.5V1187.5H171.1ZM172.5 1203.5H173.9V1187.5H172.5ZM174.1 1203.5H175.5V1187.5H174.1ZM177.2 1203.5H178.6V1187.5H177.2ZM182.2 1203.5H183.6V1187.5H182.2ZM185.3 1203.5H186.7V1187.5H185.3ZM193 1203.5H194.4V1187.5H193ZM198.1 1203.5H199.5V1187.5H198.1ZM204.4 1203.5H205.8V1187.5H204.4ZM205.8 1203.5H207.2V1187.5H205.8ZM207 1203.5H208.4V1187.5H207ZM209.2 1203.5H210.6V1187.5H209.2ZM212.3 1203.5H213.7V1187.5H212.3ZM213.2 1203.5H214.6V1187.5H213.2ZM214.4 1203.5H215.8V1187.5H214.4ZM220 1203.5H221.4V1187.5H220ZM222.8 1203.5H224.2V1187.5H222.8ZM237 1203.5H238.4V1187.5H237ZM242 1203.5H243.4V1187.5H242ZM243.2 1203.5H244.6V1187.5H243.2ZM244.5 1203.5H245.9V1187.5H244.5ZM250.1 1203.5H251.5V1187.5H250.1ZM251.6 1203.5H253V1187.5H251.6ZM252.9 1203.5H254.3V1187.5H252.9ZM255.6 1203.5H257V1187.5H255.6ZM256.9 1203.5H258.3V1187.5H256.9ZM258.4 1203.5H259.8V1187.5H258.4ZM266.4 1203.5H267.8V1187.5H266.4ZM269.3 1203.5H270.7V1187.5H269.3ZM274.9 1203.5H276.3V1187.5H274.9ZM279.9 1203.5H281.3V1187.5H279.9ZM281.1 1203.5H282.5V1187.5H281.1ZM282.3 1203.5H283.7V1187.5H282.3ZM285.4 1203.5H286.8V1187.5H285.4ZM287.6 1203.5H289V1187.5H287.6ZM288.9 1203.5H290.3V1187.5H288.9ZM289.8 1203.5H291.2V1187.5H289.8ZM291 1203.5H292.4V1187.5H291ZM296.3 1203.5H297.7V1187.5H296.3ZM299.4 1203.5H300.8V1187.5H299.4ZM304.7 1203.5H306.1V1187.5H304.7ZM307.5 1203.5H308.9V1187.5H307.5ZM310 1203.5H311.4V1187.5H310ZM318 1203.5H319.4V1187.5H318ZM323.2 1203.5H324.6V1187.5H323.2ZM329.1 1203.5H330.5V1187.5H329.1ZM334.8 1203.5H336.2V1187.5H334.8ZM337 1203.5H338.4V1187.5H337ZM340.1 1203.5H341.5V1187.5H340.1ZM341.8 1203.5H343.2V1187.5H341.8ZM343.2 1203.5H344.6V1187.5H343.2ZM344.4 1203.5H345.8V1187.5H344.4ZM346 1203.5H347.4V1187.5H346ZM347.9 1203.5H349.3V1187.5H347.9ZM349.7 1203.5H351.1V1187.5H349.7ZM351.3 1203.5H352.7V1187.5H351.3ZM354.1 1203.5H355.5V1187.5H354.1ZM355.9 1203.5H357.3V1187.5H355.9ZM357.2 1203.5H358.6V1187.5H357.2ZM359.3 1203.5H360.7V1187.5H359.3ZM364.9 1203.5H366.3V1187.5H364.9ZM366.8 1203.5H368.2V1187.5H366.8ZM369.6 1203.5H371V1187.5H369.6ZM372.6 1203.5H374V1187.5H372.6ZM381.1 1203.5H382.5V1187.5H381.1ZM395 1203.5H396.4V1187.5H395ZM396.3 1203.5H397.7V1187.5H396.3ZM400 1203.5H401.4V1187.5H400ZM402.2 1203.5H403.6V1187.5H402.2ZM405 1203.5H406.4V1187.5H405ZM408.1 1203.5H409.5V1187.5H408.1ZM409.9 1203.5H411.3V1187.5H409.9ZM424.1 1203.5H425.5V1187.5H424.1ZM437.5 1203.5H438.9V1187.5H437.5ZM456.6 1203.5H458V1187.5H456.6ZM467.8 1203.5H469.2V1187.5H467.8ZM525.3 1203.5H526.7V1187.5H525.3Z" fill="#000" stroke="none"/>
<polyline points="136.6,1196.2 143.03,1196.2 149.47,1196.2 155.91,1196.2 162.34,1196.2 168.78,1196.2 175.21,1196.2 181.64,1196.2 188.08,1196.2 194.51,1196.2 200.95,1196.2 207.38,1196.2 213.82,1196.2 220.25,1196.2 226.69,1196.2 233.12,1196.2 239.56,1196.2 246,1196.2 252.43,1196.2 258.87,1196.2 265.3,1196.2 271.74,1196.2 278.17,1196.2 284.61,1196.2 291.04,1196.2 297.48,1196.2 303.91,1196.2 310.34,1196.2 316.78,1196.2 323.21,1196.2 329.65,1196.2 336.08,1196.2 342.52,1196.2 348.95,1196.2 355.39,1196.2 361.82,1196.2 368.26,1196.2 374.69,1196.2 381.13,1196.2 387.56,1196.2 394,1196.2 400.44,1196.2 406.87,1196.2 413.31,1196.2 419.74,1196.2 426.18,1196.2 432.61,1196.2 439.04,1196.2 445.48,1196.2 451.91,1196.2 458.35,1196.2 464.79,1196.2 471.22,1196.2 477.66,1196.2 484.09,1196.2 490.52,1196.2 496.96,1196.2 503.39,1196.2 509.83,1196.2 516.26,1196.2 522.7,1196.2" fill="none" stroke="#3064a6" stroke-width="3.3" stroke-linecap="round" stroke-linejoin="round"/>
<rect x="127" y="899.2" width="405.65" height="304.3" fill="none" stroke="#000" stroke-width="1.9"/>
<text x="252.4" y="870.8" font-size="26.6" font-family="'Liberation Sans', Arial, Helvetica, sans-serif">LT.result =</text>
<text x="386.18" y="870.8" font-size="26.1" font-family="'Liberation Serif', 'Times New Roman', serif">III</text>
<text x="246.96" y="895" font-size="26.6" font-family="'Liberation Sans', Arial, Helvetica, sans-serif">exp.result =</text>
<text x="391.98" y="895" font-size="26.1" font-family="'Liberation Serif', 'Times New Roman', serif">II</text>
<rect x="532.65" y="848.3" width="405.65" height="25.45" fill="#bababa" stroke="#000" stroke-width="1.9"/>
<rect x="532.65" y="873.75" width="405.65" height="25.45" fill="#f2f2f2" stroke="#000" stroke-width="1.9"/>
<polygon points="542.25,1016.6 639.45,1095.5 738.15,1135.4 846.65,1152 928.35,1158.3 928.35,1195.2 846.65,1190.1 738.15,1181.2 639.45,1164.7 542.25,1150.7" fill="#e4e7f4" stroke="none"/>
<path d="M542.05 1203.5H543.45V1187.5H542.05ZM549.85 1203.5H551.25V1187.5H549.85ZM560.95 1203.5H562.35V1187.5H560.95ZM568.85 1203.5H570.25V1187.5H568.85ZM571.55 1203.5H572.95V1187.5H571.55ZM576.75 1203.5H578.15V1187.5H576.75ZM578.15 1203.5H579.55V1187.5H578.15ZM579.75 1203.5H581.15V1187.5H579.75ZM582.85 1203.5H584.25V1187.5H582.85ZM587.85 1203.5H589.25V1187.5H587.85ZM590.95 1203.5H592.35V1187.5H590.95ZM598.65 1203.5H600.05V1187.5H598.65ZM603.75 1203.5H605.15V1187.5H603.75ZM610.05 1203.5H611.45V1187.5H610.05ZM611.45 1203.5H612.85V1187.5H611.45ZM612.65 1203.5H614.05V1187.5H612.65ZM614.85 1203.5H616.25V1187.5H614.85ZM617.95 1203.5H619.35V1187.5H617.95ZM618.85 1203.5H620.25V1187.5H618.85ZM620.05 1203.5H621.45V1187.5H620.05ZM625.65 1203.5H627.05V1187.5H625.65ZM628.45 1203.5H629.85V1187.5H628.45ZM642.65 1203.5H644.05V1187.5H642.65ZM647.65 1203.5H649.05V1187.5H647.65ZM648.85 1203.5H650.25V1187.5H648.85ZM650.15 1203.5H651.55V1187.5H650.15ZM655.75 1203.5H657.15V1187.5H655.75ZM657.25 1203.5H658.65V1187.5H657.25ZM658.55 1203.5H659.95V1187.5H658.55ZM661.25 1203.5H662.65V1187.5H661.25ZM662.55 1203.5H663.95V1187.5H662.55ZM664.05 1203.5H665.45V1187.5H664.05ZM672.05 1203.5H673.45V1187.5H672.05ZM674.95 1203.5H676.35V1187.5H674.95ZM680.55 1203.5H681.95V1187.5H680.55ZM685.55 1203.5H686.95V1187.5H685.55ZM686.75 1203.5H688.15V1187.5H686.75ZM687.95 1203.5H689.35V1187.5H687.95ZM691.05 1203.5H692.45V1187.5H691.05ZM693.25 1203.5H694.65V1187.5H693.25ZM694.55 1203.5H695.95V1187.5H694.55ZM695.45 1203.5H696.85V1187.5H695.45ZM696.65 1203.5H698.05V1187.5H696.65ZM701.95 1203.5H703.35V1187.5H701.95ZM705.05 1203.5H706.45V1187.5H705.05ZM710.35 1203.5H711.75V1187.5H710.35ZM713.15 1203.5H714.55V1187.5H713.15ZM715.65 1203.5H717.05V1187.5H715.65ZM723.65 1203.5H725.05V1187.5H723.65ZM728.85 1203.5H730.25V1187.5H728.85ZM734.75 1203.5H736.15V1187.5H734.75ZM740.45 1203.5H741.85V1187.5H740.45ZM742.65 1203.5H744.05V1187.5H742.65ZM745.75 1203.5H747.15V1187.5H745.75ZM747.45 1203.5H748.85V1187.5H747.45ZM748.85 1203.5H750.25V1187.5H748.85ZM750.05 1203.5H751.45V1187.5H750.05ZM751.65 1203.5H753.05V1187.5H751.65ZM753.55 1203.5H754.95V1187.5H753.55ZM755.35 1203.5H756.75V1187.5H755.35ZM756.95 1203.5H758.35V1187.5H756.95ZM759.75 1203.5H761.15V1187.5H759.75ZM761.55 1203.5H762.95V1187.5H761.55ZM762.85 1203.5H764.25V1187.5H762.85ZM764.95 1203.5H766.35V1187.5H764.95ZM770.55 1203.5H771.95V1187.5H770.55ZM772.45 1203.5H773.85V1187.5H772.45ZM775.25 1203.5H776.65V1187.5H775.25ZM778.25 1203.5H779.65V1187.5H778.25ZM786.75 1203.5H788.15V1187.5H786.75ZM800.65 1203.5H802.05V1187.5H800.65ZM801.95 1203.5H803.35V1187.5H801.95ZM805.65 1203.5H807.05V1187.5H805.65ZM807.85 1203.5H809.25V1187.5H807.85ZM810.65 1203.5H812.05V1187.5H810.65ZM813.75 1203.5H815.15V1187.5H813.75ZM815.55 1203.5H816.95V1187.5H815.55ZM829.75 1203.5H831.15V1187.5H829.75ZM843.15 1203.5H844.55V1187.5H843.15ZM862.25 1203.5H863.65V1187.5H862.25ZM873.45 1203.5H874.85V1187.5H873.45ZM930.95 1203.5H932.35V1187.5H930.95Z" fill="#000" stroke="none"/>
<polyline points="542.25,1091.96 548.68,1095.36 555.12,1098.7 561.55,1102 567.99,1105.23 574.42,1108.4 580.86,1111.51 587.29,1114.56 593.73,1117.53 600.16,1120.44 606.6,1123.28 613.03,1126.04 619.47,1128.74 625.9,1131.36 632.34,1133.91 638.77,1136.38 645.21,1138.78 651.64,1141.11 658.08,1143.36 664.51,1145.55 670.95,1147.66 677.38,1149.7 683.82,1151.67 690.25,1153.57 696.69,1155.4 703.12,1157.17 709.56,1158.87 715.99,1160.51 722.43,1162.08 728.87,1163.6 735.3,1165.06 741.73,1166.45 748.17,1167.8 754.61,1169.09 761.04,1170.32 767.47,1171.51 773.91,1172.64 780.34,1173.73 786.78,1174.77 793.21,1175.77 799.65,1176.72 806.09,1177.64 812.52,1178.51 818.95,1179.34 825.39,1180.14 831.83,1180.9 838.26,1181.63 844.69,1182.32 851.13,1182.99 857.56,1183.62 864,1184.22 870.43,1184.8 876.87,1185.35 883.31,1185.87 889.74,1186.37 896.17,1186.85 902.61,1187.3 909.04,1187.73 915.48,1188.15 921.91,1188.54 928.35,1188.91" fill="none" stroke="#3064a6" stroke-width="3.3" stroke-linecap="round" stroke-linejoin="round"/>
<rect x="532.65" y="899.2" width="405.65" height="304.3" fill="none" stroke="#000" stroke-width="1.9"/>
<text x="658.05" y="870.8" font-size="26.6" font-family="'Liberation Sans', Arial, Helvetica, sans-serif">LT.result =</text>
<text x="791.83" y="870.8" font-size="26.1" font-family="'Liberation Serif', 'Times New Roman', serif">III</text>
<text x="637.71" y="895" font-size="26.6" font-family="'Liberation Sans', Arial, Helvetica, sans-serif">exp.result =</text>
<text x="785.93" y="895" font-size="26.1" font-family="'Liberation Serif', 'Times New Roman', serif">II-III</text>
<rect x="938.3" y="848.3" width="405.65" height="25.45" fill="#bababa" stroke="#000" stroke-width="1.9"/>
<rect x="938.3" y="873.75" width="405.65" height="25.45" fill="#f2f2f2" stroke="#000" stroke-width="1.9"/>
<polygon points="947.9,1008.2 1045.1,1087.1 1143.8,1127.8 1252.3,1146.4 1334,1153.2 1334,1194.7 1252.3,1188.9 1143.8,1178.7 1045.1,1160.9 947.9,1145.6" fill="#e4e7f4" stroke="none"/>
<path d="M947.7 1203.5H949.1V1187.5H947.7ZM955.5 1203.5H956.9V1187.5H955.5ZM966.6 1203.5H968V1187.5H966.6ZM974.5 1203.5H975.9V1187.5H974.5ZM977.2 1203.5H978.6V1187.5H977.2ZM982.4 1203.5H983.8V1187.5H982.4ZM983.8 1203.5H985.2V1187.5H983.8ZM985.4 1203.5H986.8V1187.5H985.4ZM988.5 1203.5H989.9V1187.5H988.5ZM993.5 1203.5H994.9V1187.5H993.5ZM996.6 1203.5H998V1187.5H996.6ZM1004.3 1203.5H1005.7V1187.5H1004.3ZM1009.4 1203.5H1010.8V1187.5H1009.4ZM1015.7 1203.5H1017.1V1187.5H1015.7ZM1017.1 1203.5H1018.5V1187.5H1017.1ZM1018.3 1203.5H1019.7V1187.5H1018.3ZM1020.5 1203.5H1021.9V1187.5H1020.5ZM1023.6 1203.5H1025V1187.5H1023.6ZM1024.5 1203.5H1025.9V1187.5H1024.5ZM1025.7 1203.5H1027.1V1187.5H1025.7ZM1031.3 1203.5H1032.7V1187.5H1031.3ZM1034.1 1203.5H1035.5V1187.5H1034.1ZM1048.3 1203.5H1049.7V1187.5H1048.3ZM1053.3 1203.5H1054.7V1187.5H1053.3ZM1054.5 1203.5H1055.9V1187.5H1054.5ZM1055.8 1203.5H1057.2V1187.5H1055.8ZM1061.4 1203.5H1062.8V1187.5H1061.4ZM1062.9 1203.5H1064.3V1187.5H1062.9ZM1064.2 1203.5H1065.6V1187.5H1064.2ZM1066.9 1203.5H1068.3V1187.5H1066.9ZM1068.2 1203.5H1069.6V1187.5H1068.2ZM1069.7 1203.5H1071.1V1187.5H1069.7ZM1077.7 1203.5H1079.1V1187.5H1077.7ZM1080.6 1203.5H1082V1187.5H1080.6ZM1086.2 1203.5H1087.6V1187.5H1086.2ZM1091.2 1203.5H1092.6V1187.5H1091.2ZM1092.4 1203.5H1093.8V1187.5H1092.4ZM1093.6 1203.5H1095V1187.5H1093.6ZM1096.7 1203.5H1098.1V1187.5H1096.7ZM1098.9 1203.5H1100.3V1187.5H1098.9ZM1100.2 1203.5H1101.6V1187.5H1100.2ZM1101.1 1203.5H1102.5V1187.5H1101.1ZM1102.3 1203.5H1103.7V1187.5H1102.3ZM1107.6 1203.5H1109V1187.5H1107.6ZM1110.7 1203.5H1112.1V1187.5H1110.7ZM1116 1203.5H1117.4V1187.5H1116ZM1118.8 1203.5H1120.2V1187.5H1118.8ZM1121.3 1203.5H1122.7V1187.5H1121.3ZM1129.3 1203.5H1130.7V1187.5H1129.3ZM1134.5 1203.5H1135.9V1187.5H1134.5ZM1140.4 1203.5H1141.8V1187.5H1140.4ZM1146.1 1203.5H1147.5V1187.5H1146.1ZM1148.3 1203.5H1149.7V1187.5H1148.3ZM1151.4 1203.5H1152.8V1187.5H1151.4ZM1153.1 1203.5H1154.5V1187.5H1153.1ZM1154.5 1203.5H1155.9V1187.5H1154.5ZM1155.7 1203.5H1157.1V1187.5H1155.7ZM1157.3 1203.5H1158.7V1187.5H1157.3ZM1159.2 1203.5H1160.6V1187.5H1159.2ZM1161 1203.5H1162.4V1187.5H1161ZM1162.6 1203.5H1164V1187.5H1162.6ZM1165.4 1203.5H1166.8V1187.5H1165.4ZM1167.2 1203.5H1168.6V1187.5H1167.2ZM1168.5 1203.5H1169.9V1187.5H1168.5ZM1170.6 1203.5H1172V1187.5H1170.6ZM1176.2 1203.5H1177.6V1187.5H1176.2ZM1178.1 1203.5H1179.5V1187.5H1178.1ZM1180.9 1203.5H1182.3V1187.5H1180.9ZM1183.9 1203.5H1185.3V1187.5H1183.9ZM1192.4 1203.5H1193.8V1187.5H1192.4ZM1206.3 1203.5H1207.7V1187.5H1206.3ZM1207.6 1203.5H1209V1187.5H1207.6ZM1211.3 1203.5H1212.7V1187.5H1211.3ZM1213.5 1203.5H1214.9V1187.5H1213.5ZM1216.3 1203.5H1217.7V1187.5H1216.3ZM1219.4 1203.5H1220.8V1187.5H1219.4ZM1221.2 1203.5H1222.6V1187.5H1221.2ZM1235.4 1203.5H1236.8V1187.5H1235.4ZM1248.8 1203.5H1250.2V1187.5H1248.8ZM1267.9 1203.5H1269.3V1187.5H1267.9ZM1279.1 1203.5H1280.5V1187.5H1279.1ZM1336.6 1203.5H1338V1187.5H1336.6Z" fill="#000" stroke="none"/>
<polyline points="947.9,1082.79 954.33,1086.31 960.77,1089.79 967.2,1093.22 973.64,1096.61 980.07,1099.93 986.51,1103.2 992.94,1106.42 999.38,1109.57 1005.81,1112.65 1012.25,1115.67 1018.68,1118.62 1025.12,1121.5 1031.55,1124.31 1037.99,1127.05 1044.42,1129.72 1050.86,1132.31 1057.29,1134.83 1063.73,1137.28 1070.16,1139.65 1076.6,1141.95 1083.03,1144.18 1089.47,1146.34 1095.9,1148.42 1102.34,1150.44 1108.77,1152.38 1115.21,1154.26 1121.64,1156.06 1128.08,1157.81 1134.51,1159.48 1140.95,1161.1 1147.38,1162.65 1153.82,1164.15 1160.25,1165.58 1166.69,1166.96 1173.12,1168.28 1179.56,1169.55 1185.99,1170.77 1192.43,1171.93 1198.87,1173.05 1205.3,1174.12 1211.73,1175.15 1218.17,1176.13 1224.61,1177.07 1231.04,1177.96 1237.47,1178.82 1243.91,1179.64 1250.34,1180.43 1256.78,1181.17 1263.21,1181.89 1269.65,1182.57 1276.09,1183.22 1282.52,1183.85 1288.95,1184.44 1295.39,1185.01 1301.82,1185.55 1308.26,1186.06 1314.69,1186.55 1321.13,1187.02 1327.57,1187.46 1334,1187.89" fill="none" stroke="#3064a6" stroke-width="3.3" stroke-linecap="round" stroke-linejoin="round"/>
<rect x="938.3" y="899.2" width="405.65" height="304.3" fill="none" stroke="#000" stroke-width="1.9"/>
<text x="1063.7" y="870.8" font-size="26.6" font-family="'Liberation Sans', Arial, Helvetica, sans-serif">LT.result =</text>
<text x="1197.48" y="870.8" font-size="26.1" font-family="'Liberation Serif', 'Times New Roman', serif">III</text>
<text x="1058.26" y="895" font-size="26.6" font-family="'Liberation Sans', Arial, Helvetica, sans-serif">exp.result =</text>
<text x="1205.38" y="895" font-size="26.1" font-family="'Liberation Serif', 'Times New Roman', serif">III</text>
<rect x="1343.95" y="848.3" width="405.65" height="25.45" fill="#bababa" stroke="#000" stroke-width="1.9"/>
<rect x="1343.95" y="873.75" width="405.65" height="25.45" fill="#f2f2f2" stroke="#000" stroke-width="1.9"/>
<polygon points="1353.55,1103.1 1450.75,1148.1 1549.45,1168 1657.95,1178.2 1739.65,1182 1739.65,1195 1657.95,1195 1549.45,1194 1450.75,1192 1353.55,1188.3" fill="#e4e7f4" stroke="none"/>
<path d="M1353.35 1203.5H1354.75V1187.5H1353.35ZM1361.15 1203.5H1362.55V1187.5H1361.15ZM1372.25 1203.5H1373.65V1187.5H1372.25ZM1380.15 1203.5H1381.55V1187.5H1380.15ZM1382.85 1203.5H1384.25V1187.5H1382.85ZM1388.05 1203.5H1389.45V1187.5H1388.05ZM1389.45 1203.5H1390.85V1187.5H1389.45ZM1391.05 1203.5H1392.45V1187.5H1391.05ZM1394.15 1203.5H1395.55V1187.5H1394.15ZM1399.15 1203.5H1400.55V1187.5H1399.15ZM1402.25 1203.5H1403.65V1187.5H1402.25ZM1409.95 1203.5H1411.35V1187.5H1409.95ZM1415.05 1203.5H1416.45V1187.5H1415.05ZM1421.35 1203.5H1422.75V1187.5H1421.35ZM1422.75 1203.5H1424.15V1187.5H1422.75ZM1423.95 1203.5H1425.35V1187.5H1423.95ZM1426.15 1203.5H1427.55V1187.5H1426.15ZM1429.25 1203.5H1430.65V1187.5H1429.25ZM1430.15 1203.5H1431.55V1187.5H1430.15ZM1431.35 1203.5H1432.75V1187.5H1431.35ZM1436.95 1203.5H1438.35V1187.5H1436.95ZM1439.75 1203.5H1441.15V1187.5H1439.75ZM1453.95 1203.5H1455.35V1187.5H1453.95ZM1458.95 1203.5H1460.35V1187.5H1458.95ZM1460.15 1203.5H1461.55V1187.5H1460.15ZM1461.45 1203.5H1462.85V1187.5H1461.45ZM1467.05 1203.5H1468.45V1187.5H1467.05ZM1468.55 1203.5H1469.95V1187.5H1468.55ZM1469.85 1203.5H1471.25V1187.5H1469.85ZM1472.55 1203.5H1473.95V1187.5H1472.55ZM1473.85 1203.5H1475.25V1187.5H1473.85ZM1475.35 1203.5H1476.75V1187.5H1475.35ZM1483.35 1203.5H1484.75V1187.5H1483.35ZM1486.25 1203.5H1487.65V1187.5H1486.25ZM1491.85 1203.5H1493.25V1187.5H1491.85ZM1496.85 1203.5H1498.25V1187.5H1496.85ZM1498.05 1203.5H1499.45V1187.5H1498.05ZM1499.25 1203.5H1500.65V1187.5H1499.25ZM1502.35 1203.5H1503.75V1187.5H1502.35ZM1504.55 1203.5H1505.95V1187.5H1504.55ZM1505.85 1203.5H1507.25V1187.5H1505.85ZM1506.75 1203.5H1508.15V1187.5H1506.75ZM1507.95 1203.5H1509.35V1187.5H1507.95ZM1513.25 1203.5H1514.65V1187.5H1513.25ZM1516.35 1203.5H1517.75V1187.5H1516.35ZM1521.65 1203.5H1523.05V1187.5H1521.65ZM1524.45 1203.5H1525.85V1187.5H1524.45ZM1526.95 1203.5H1528.35V1187.5H1526.95ZM1534.95 1203.5H1536.35V1187.5H1534.95ZM1540.15 1203.5H1541.55V1187.5H1540.15ZM1546.05 1203.5H1547.45V1187.5H1546.05ZM1551.75 1203.5H1553.15V1187.5H1551.75ZM1553.95 1203.5H1555.35V1187.5H1553.95ZM1557.05 1203.5H1558.45V1187.5H1557.05ZM1558.75 1203.5H1560.15V1187.5H1558.75ZM1560.15 1203.5H1561.55V1187.5H1560.15ZM1561.35 1203.5H1562.75V1187.5H1561.35ZM1562.95 1203.5H1564.35V1187.5H1562.95ZM1564.85 1203.5H1566.25V1187.5H1564.85ZM1566.65 1203.5H1568.05V1187.5H1566.65ZM1568.25 1203.5H1569.65V1187.5H1568.25ZM1571.05 1203.5H1572.45V1187.5H1571.05ZM1572.85 1203.5H1574.25V1187.5H1572.85ZM1574.15 1203.5H1575.55V1187.5H1574.15ZM1576.25 1203.5H1577.65V1187.5H1576.25ZM1581.85 1203.5H1583.25V1187.5H1581.85ZM1583.75 1203.5H1585.15V1187.5H1583.75ZM1586.55 1203.5H1587.95V1187.5H1586.55ZM1589.55 1203.5H1590.95V1187.5H1589.55ZM1598.05 1203.5H1599.45V1187.5H1598.05ZM1611.95 1203.5H1613.35V1187.5H1611.95ZM1613.25 1203.5H1614.65V1187.5H1613.25ZM1616.95 1203.5H1618.35V1187.5H1616.95ZM1619.15 1203.5H1620.55V1187.5H1619.15ZM1621.95 1203.5H1623.35V1187.5H1621.95ZM1625.05 1203.5H1626.45V1187.5H1625.05ZM1626.85 1203.5H1628.25V1187.5H1626.85ZM1641.05 1203.5H1642.45V1187.5H1641.05ZM1654.45 1203.5H1655.85V1187.5H1654.45ZM1673.55 1203.5H1674.95V1187.5H1673.55ZM1684.75 1203.5H1686.15V1187.5H1684.75ZM1742.25 1203.5H1743.65V1187.5H1742.25Z" fill="#000" stroke="none"/>
<polyline points="1353.55,1167.56 1359.98,1168.85 1366.42,1170.1 1372.85,1171.29 1379.29,1172.44 1385.72,1173.53 1392.16,1174.58 1398.59,1175.59 1405.03,1176.55 1411.46,1177.47 1417.9,1178.35 1424.33,1179.19 1430.77,1180 1437.2,1180.76 1443.64,1181.5 1450.07,1182.2 1456.51,1182.87 1462.94,1183.5 1469.38,1184.11 1475.81,1184.69 1482.25,1185.25 1488.68,1185.78 1495.12,1186.28 1501.55,1186.76 1507.99,1187.22 1514.42,1187.66 1520.86,1188.07 1527.29,1188.47 1533.73,1188.84 1540.16,1189.2 1546.6,1189.55 1553.03,1189.87 1559.47,1190.18 1565.9,1190.48 1572.34,1190.76 1578.77,1191.03 1585.21,1191.28 1591.64,1191.52 1598.08,1191.75 1604.51,1191.97 1610.95,1192.18 1617.38,1192.38 1623.82,1192.57 1630.25,1192.75 1636.69,1192.92 1643.12,1193.08 1649.56,1193.24 1655.99,1193.38 1662.43,1193.52 1668.86,1193.66 1675.3,1193.78 1681.73,1193.9 1688.17,1194.02 1694.6,1194.12 1701.04,1194.23 1707.47,1194.33 1713.91,1194.42 1720.34,1194.51 1726.78,1194.59 1733.21,1194.67 1739.65,1194.75" fill="none" stroke="#3064a6" stroke-width="3.3" stroke-linecap="round" stroke-linejoin="round"/>
<rect x="1343.95" y="899.2" width="405.65" height="304.3" fill="none" stroke="#000" stroke-width="1.9"/>
<text x="1469.35" y="870.8" font-size="26.6" font-family="'Liberation Sans', Arial, Helvetica, sans-serif">LT.result =</text>
<text x="1603.13" y="870.8" font-size="26.1" font-family="'Liberation Serif', 'Times New Roman', serif">III</text>
<text x="1440.81" y="895" font-size="26.6" font-family="'Liberation Sans', Arial, Helvetica, sans-serif">exp.result =</text>
<text x="1592.13" y="895" font-size="26.1" font-family="'Liberation Serif', 'Times New Roman', serif">III-IV</text>
<line x1="169.5" y1="111.7" x2="169.5" y2="98.5" stroke="#000" stroke-width="1.9"/>
<line x1="169.5" y1="1203.5" x2="169.5" y2="1216.3" stroke="#000" stroke-width="1.9"/>
<text x="172.9" y="1247.4" font-size="26.8" text-anchor="middle" font-family="'Liberation Sans', Arial, Helvetica, sans-serif" >40</text>
<line x1="223.88" y1="111.7" x2="223.88" y2="98.5" stroke="#000" stroke-width="1.9"/>
<line x1="223.88" y1="1203.5" x2="223.88" y2="1216.3" stroke="#000" stroke-width="1.9"/>
<text x="227.28" y="1247.4" font-size="26.8" text-anchor="middle" font-family="'Liberation Sans', Arial, Helvetica, sans-serif" >60</text>
<line x1="278.26" y1="111.7" x2="278.26" y2="98.5" stroke="#000" stroke-width="1.9"/>
<line x1="278.26" y1="1203.5" x2="278.26" y2="1216.3" stroke="#000" stroke-width="1.9"/>
<text x="281.66" y="1247.4" font-size="26.8" text-anchor="middle" font-family="'Liberation Sans', Arial, Helvetica, sans-serif" >80</text>
<line x1="332.64" y1="111.7" x2="332.64" y2="98.5" stroke="#000" stroke-width="1.9"/>
<line x1="332.64" y1="1203.5" x2="332.64" y2="1216.3" stroke="#000" stroke-width="1.9"/>
<text x="333.14" y="1247.4" font-size="26.8" text-anchor="middle" font-family="'Liberation Sans', Arial, Helvetica, sans-serif" >100</text>
<line x1="387.02" y1="111.7" x2="387.02" y2="98.5" stroke="#000" stroke-width="1.9"/>
<line x1="387.02" y1="1203.5" x2="387.02" y2="1216.3" stroke="#000" stroke-width="1.9"/>
<text x="387.52" y="1247.4" font-size="26.8" text-anchor="middle" font-family="'Liberation Sans', Arial, Helvetica, sans-serif" >120</text>
<line x1="441.4" y1="111.7" x2="441.4" y2="98.5" stroke="#000" stroke-width="1.9"/>
<line x1="441.4" y1="1203.5" x2="441.4" y2="1216.3" stroke="#000" stroke-width="1.9"/>
<text x="441.9" y="1247.4" font-size="26.8" text-anchor="middle" font-family="'Liberation Sans', Arial, Helvetica, sans-serif" >140</text>
<line x1="495.78" y1="111.7" x2="495.78" y2="98.5" stroke="#000" stroke-width="1.9"/>
<line x1="495.78" y1="1203.5" x2="495.78" y2="1216.3" stroke="#000" stroke-width="1.9"/>
<text x="496.28" y="1247.4" font-size="26.8" text-anchor="middle" font-family="'Liberation Sans', Arial, Helvetica, sans-serif" >160</text>
<line x1="575.15" y1="111.7" x2="575.15" y2="98.5" stroke="#000" stroke-width="1.9"/>
<line x1="575.15" y1="1203.5" x2="575.15" y2="1216.3" stroke="#000" stroke-width="1.9"/>
<text x="578.55" y="87" font-size="26.8" text-anchor="middle" font-family="'Liberation Sans', Arial, Helvetica, sans-serif" >40</text>
<line x1="629.53" y1="111.7" x2="629.53" y2="98.5" stroke="#000" stroke-width="1.9"/>
<line x1="629.53" y1="1203.5" x2="629.53" y2="1216.3" stroke="#000" stroke-width="1.9"/>
<text x="632.93" y="87" font-size="26.8" text-anchor="middle" font-family="'Liberation Sans', Arial, Helvetica, sans-serif" >60</text>
<line x1="683.91" y1="111.7" x2="683.91" y2="98.5" stroke="#000" stroke-width="1.9"/>
<line x1="683.91" y1="1203.5" x2="683.91" y2="1216.3" stroke="#000" stroke-width="1.9"/>
<text x="687.31" y="87" font-size="26.8" text-anchor="middle" font-family="'Liberation Sans', Arial, Helvetica, sans-serif" >80</text>
<line x1="738.29" y1="111.7" x2="738.29" y2="98.5" stroke="#000" stroke-width="1.9"/>
<line x1="738.29" y1="1203.5" x2="738.29" y2="1216.3" stroke="#000" stroke-width="1.9"/>
<text x="738.79" y="87" font-size="26.8" text-anchor="middle" font-family="'Liberation Sans', Arial, Helvetica, sans-serif" >100</text>
<line x1="792.67" y1="111.7" x2="792.67" y2="98.5" stroke="#000" stroke-width="1.9"/>
<line x1="792.67" y1="1203.5" x2="792.67" y2="1216.3" stroke="#000" stroke-width="1.9"/>
<text x="793.17" y="87" font-size="26.8" text-anchor="middle" font-family="'Liberation Sans', Arial, Helvetica, sans-serif" >120</text>
<line x1="847.05" y1="111.7" x2="847.05" y2="98.5" stroke="#000" stroke-width="1.9"/>
<line x1="847.05" y1="1203.5" x2="847.05" y2="1216.3" stroke="#000" stroke-width="1.9"/>
<text x="847.55" y="87" font-size="26.8" text-anchor="middle" font-family="'Liberation Sans', Arial, Helvetica, sans-serif" >140</text>
<line x1="901.43" y1="111.7" x2="901.43" y2="98.5" stroke="#000" stroke-width="1.9"/>
<line x1="901.43" y1="1203.5" x2="901.43" y2="1216.3" stroke="#000" stroke-width="1.9"/>
<text x="901.93" y="87" font-size="26.8" text-anchor="middle" font-family="'Liberation Sans', Arial, Helvetica, sans-serif" >160</text>
<line x1="980.8" y1="111.7" x2="980.8" y2="98.5" stroke="#000" stroke-width="1.9"/>
<line x1="980.8" y1="1203.5" x2="980.8" y2="1216.3" stroke="#000" stroke-width="1.9"/>
<text x="984.2" y="1247.4" font-size="26.8" text-anchor="middle" font-family="'Liberation Sans', Arial, Helvetica, sans-serif" >40</text>
<line x1="1035.18" y1="111.7" x2="1035.18" y2="98.5" stroke="#000" stroke-width="1.9"/>
<line x1="1035.18" y1="1203.5" x2="1035.18" y2="1216.3" stroke="#000" stroke-width="1.9"/>
<text x="1038.58" y="1247.4" font-size="26.8" text-anchor="middle" font-family="'Liberation Sans', Arial, Helvetica, sans-serif" >60</text>
<line x1="1089.56" y1="111.7" x2="1089.56" y2="98.5" stroke="#000" stroke-width="1.9"/>
<line x1="1089.56" y1="1203.5" x2="1089.56" y2="1216.3" stroke="#000" stroke-width="1.9"/>
<text x="1092.96" y="1247.4" font-size="26.8" text-anchor="middle" font-family="'Liberation Sans', Arial, Helvetica, sans-serif" >80</text>
<line x1="1143.94" y1="111.7" x2="1143.94" y2="98.5" stroke="#000" stroke-width="1.9"/>
<line x1="1143.94" y1="1203.5" x2="1143.94" y2="1216.3" stroke="#000" stroke-width="1.9"/>
<text x="1144.44" y="1247.4" font-size="26.8" text-anchor="middle" font-family="'Liberation Sans', Arial, Helvetica, sans-serif" >100</text>
<line x1="1198.32" y1="111.7" x2="1198.32" y2="98.5" stroke="#000" stroke-width="1.9"/>
<line x1="1198.32" y1="1203.5" x2="1198.32" y2="1216.3" stroke="#000" stroke-width="1.9"/>
<text x="1198.82" y="1247.4" font-size="26.8" text-anchor="middle" font-family="'Liberation Sans', Arial, Helvetica, sans-serif" >120</text>
<line x1="1252.7" y1="111.7" x2="1252.7" y2="98.5" stroke="#000" stroke-width="1.9"/>
<line x1="1252.7" y1="1203.5" x2="1252.7" y2="1216.3" stroke="#000" stroke-width="1.9"/>
<text x="1253.2" y="1247.4" font-size="26.8" text-anchor="middle" font-family="'Liberation Sans', Arial, Helvetica, sans-serif" >140</text>
<line x1="1307.08" y1="111.7" x2="1307.08" y2="98.5" stroke="#000" stroke-width="1.9"/>
<line x1="1307.08" y1="1203.5" x2="1307.08" y2="1216.3" stroke="#000" stroke-width="1.9"/>
<text x="1307.58" y="1247.4" font-size="26.8" text-anchor="middle" font-family="'Liberation Sans', Arial, Helvetica, sans-serif" >160</text>
<line x1="1386.45" y1="111.7" x2="1386.45" y2="98.5" stroke="#000" stroke-width="1.9"/>
<line x1="1386.45" y1="1203.5" x2="1386.45" y2="1216.3" stroke="#000" stroke-width="1.9"/>
<text x="1389.85" y="87" font-size="26.8" text-anchor="middle" font-family="'Liberation Sans', Arial, Helvetica, sans-serif" >40</text>
<line x1="1440.83" y1="111.7" x2="1440.83" y2="98.5" stroke="#000" stroke-width="1.9"/>
<line x1="1440.83" y1="1203.5" x2="1440.83" y2="1216.3" stroke="#000" stroke-width="1.9"/>
<text x="1444.23" y="87" font-size="26.8" text-anchor="middle" font-family="'Liberation Sans', Arial, Helvetica, sans-serif" >60</text>
<line x1="1495.21" y1="111.7" x2="1495.21" y2="98.5" stroke="#000" stroke-width="1.9"/>
<line x1="1495.21" y1="1203.5" x2="1495.21" y2="1216.3" stroke="#000" stroke-width="1.9"/>
<text x="1498.61" y="87" font-size="26.8" text-anchor="middle" font-family="'Liberation Sans', Arial, Helvetica, sans-serif" >80</text>
<line x1="1549.59" y1="111.7" x2="1549.59" y2="98.5" stroke="#000" stroke-width="1.9"/>
<line x1="1549.59" y1="1203.5" x2="1549.59" y2="1216.3" stroke="#000" stroke-width="1.9"/>
<text x="1550.09" y="87" font-size="26.8" text-anchor="middle" font-family="'Liberation Sans', Arial, Helvetica, sans-serif" >100</text>
<line x1="1603.97" y1="111.7" x2="1603.97" y2="98.5" stroke="#000" stroke-width="1.9"/>
<line x1="1603.97" y1="1203.5" x2="1603.97" y2="1216.3" stroke="#000" stroke-width="1.9"/>
<text x="1604.47" y="87" font-size="26.8" text-anchor="middle" font-family="'Liberation Sans', Arial, Helvetica, sans-serif" >120</text>
<line x1="1658.35" y1="111.7" x2="1658.35" y2="98.5" stroke="#000" stroke-width="1.9"/>
<line x1="1658.35" y1="1203.5" x2="1658.35" y2="1216.3" stroke="#000" stroke-width="1.9"/>
<text x="1658.85" y="87" font-size="26.8" text-anchor="middle" font-family="'Liberation Sans', Arial, Helvetica, sans-serif" >140</text>
<line x1="1712.73" y1="111.7" x2="1712.73" y2="98.5" stroke="#000" stroke-width="1.9"/>
<line x1="1712.73" y1="1203.5" x2="1712.73" y2="1216.3" stroke="#000" stroke-width="1.9"/>
<text x="1713.23" y="87" font-size="26.8" text-anchor="middle" font-family="'Liberation Sans', Arial, Helvetica, sans-serif" >160</text>
<line x1="127" y1="459.6" x2="114" y2="459.6" stroke="#000" stroke-width="1.9"/>
<line x1="1749.6" y1="459.6" x2="1762.6" y2="459.6" stroke="#000" stroke-width="1.9"/>
<text x="102.35" y="469.05" font-size="26.8" text-anchor="end" font-family="'Liberation Sans', Arial, Helvetica, sans-serif" >0.0</text>
<line x1="127" y1="401.7" x2="114" y2="401.7" stroke="#000" stroke-width="1.9"/>
<line x1="1749.6" y1="401.7" x2="1762.6" y2="401.7" stroke="#000" stroke-width="1.9"/>
<text x="102.35" y="411.15" font-size="26.8" text-anchor="end" font-family="'Liberation Sans', Arial, Helvetica, sans-serif" >0.2</text>
<line x1="127" y1="343.8" x2="114" y2="343.8" stroke="#000" stroke-width="1.9"/>
<line x1="1749.6" y1="343.8" x2="1762.6" y2="343.8" stroke="#000" stroke-width="1.9"/>
<text x="102.35" y="353.25" font-size="26.8" text-anchor="end" font-family="'Liberation Sans', Arial, Helvetica, sans-serif" >0.4</text>
<line x1="127" y1="285.9" x2="114" y2="285.9" stroke="#000" stroke-width="1.9"/>
<line x1="1749.6" y1="285.9" x2="1762.6" y2="285.9" stroke="#000" stroke-width="1.9"/>
<text x="102.35" y="295.35" font-size="26.8" text-anchor="end" font-family="'Liberation Sans', Arial, Helvetica, sans-serif" >0.6</text>
<line x1="127" y1="228" x2="114" y2="228" stroke="#000" stroke-width="1.9"/>
<line x1="1749.6" y1="228" x2="1762.6" y2="228" stroke="#000" stroke-width="1.9"/>
<text x="102.35" y="237.45" font-size="26.8" text-anchor="end" font-family="'Liberation Sans', Arial, Helvetica, sans-serif" >0.8</text>
<line x1="127" y1="170.1" x2="114" y2="170.1" stroke="#000" stroke-width="1.9"/>
<line x1="1749.6" y1="170.1" x2="1762.6" y2="170.1" stroke="#000" stroke-width="1.9"/>
<text x="102.35" y="179.55" font-size="26.8" text-anchor="end" font-family="'Liberation Sans', Arial, Helvetica, sans-serif" >1.0</text>
<line x1="127" y1="827.9" x2="114" y2="827.9" stroke="#000" stroke-width="1.9"/>
<line x1="1749.6" y1="827.9" x2="1762.6" y2="827.9" stroke="#000" stroke-width="1.9"/>
<text x="1774" y="837.35" font-size="26.8" text-anchor="start" font-family="'Liberation Sans', Arial, Helvetica, sans-serif" >0.0</text>
<line x1="127" y1="770" x2="114" y2="770" stroke="#000" stroke-width="1.9"/>
<line x1="1749.6" y1="770" x2="1762.6" y2="770" stroke="#000" stroke-width="1.9"/>
<text x="1774" y="779.45" font-size="26.8" text-anchor="start" font-family="'Liberation Sans', Arial, Helvetica, sans-serif" >0.2</text>
<line x1="127" y1="712.1" x2="114" y2="712.1" stroke="#000" stroke-width="1.9"/>
<line x1="1749.6" y1="712.1" x2="1762.6" y2="712.1" stroke="#000" stroke-width="1.9"/>
<text x="1774" y="721.55" font-size="26.8" text-anchor="start" font-family="'Liberation Sans', Arial, Helvetica, sans-serif" >0.4</text>
<line x1="127" y1="654.2" x2="114" y2="654.2" stroke="#000" stroke-width="1.9"/>
<line x1="1749.6" y1="654.2" x2="1762.6" y2="654.2" stroke="#000" stroke-width="1.9"/>
<text x="1774" y="663.65" font-size="26.8" text-anchor="start" font-family="'Liberation Sans', Arial, Helvetica, sans-serif" >0.6</text>
<line x1="127" y1="596.3" x2="114" y2="596.3" stroke="#000" stroke-width="1.9"/>
<line x1="1749.6" y1="596.3" x2="1762.6" y2="596.3" stroke="#000" stroke-width="1.9"/>
<text x="1774" y="605.75" font-size="26.8" text-anchor="start" font-family="'Liberation Sans', Arial, Helvetica, sans-serif" >0.8</text>
<line x1="127" y1="538.4" x2="114" y2="538.4" stroke="#000" stroke-width="1.9"/>
<line x1="1749.6" y1="538.4" x2="1762.6" y2="538.4" stroke="#000" stroke-width="1.9"/>
<text x="1774" y="547.85" font-size="26.8" text-anchor="start" font-family="'Liberation Sans', Arial, Helvetica, sans-serif" >1.0</text>
<line x1="127" y1="1196.2" x2="114" y2="1196.2" stroke="#000" stroke-width="1.9"/>
<line x1="1749.6" y1="1196.2" x2="1762.6" y2="1196.2" stroke="#000" stroke-width="1.9"/>
<text x="102.35" y="1205.65" font-size="26.8" text-anchor="end" font-family="'Liberation Sans', Arial, Helvetica, sans-serif" >0.0</text>
<line x1="127" y1="1138.3" x2="114" y2="1138.3" stroke="#000" stroke-width="1.9"/>
<line x1="1749.6" y1="1138.3" x2="1762.6" y2="1138.3" stroke="#000" stroke-width="1.9"/>
<text x="102.35" y="1147.75" font-size="26.8" text-anchor="end" font-family="'Liberation Sans', Arial, Helvetica, sans-serif" >0.2</text>
<line x1="127" y1="1080.4" x2="114" y2="1080.4" stroke="#000" stroke-width="1.9"/>
<line x1="1749.6" y1="1080.4" x2="1762.6" y2="1080.4" stroke="#000" stroke-width="1.9"/>
<text x="102.35" y="1089.85" font-size="26.8" text-anchor="end" font-family="'Liberation Sans', Arial, Helvetica, sans-serif" >0.4</text>
<line x1="127" y1="1022.5" x2="114" y2="1022.5" stroke="#000" stroke-width="1.9"/>
<line x1="1749.6" y1="1022.5" x2="1762.6" y2="1022.5" stroke="#000" stroke-width="1.9"/>
<text x="102.35" y="1031.95" font-size="26.8" text-anchor="end" font-family="'Liberation Sans', Arial, Helvetica, sans-serif" >0.6</text>
<line x1="127" y1="964.6" x2="114" y2="964.6" stroke="#000" stroke-width="1.9"/>
<line x1="1749.6" y1="964.6" x2="1762.6" y2="964.6" stroke="#000" stroke-width="1.9"/>
<text x="102.35" y="974.05" font-size="26.8" text-anchor="end" font-family="'Liberation Sans', Arial, Helvetica, sans-serif" >0.8</text>
<line x1="127" y1="906.7" x2="114" y2="906.7" stroke="#000" stroke-width="1.9"/>
<line x1="1749.6" y1="906.7" x2="1762.6" y2="906.7" stroke="#000" stroke-width="1.9"/>
<text x="102.35" y="916.15" font-size="26.8" text-anchor="end" font-family="'Liberation Sans', Arial, Helvetica, sans-serif" >1.0</text>
<text x="934.55" y="28.9" font-size="31.7" text-anchor="middle" font-family="'Liberation Sans', Arial, Helvetica, sans-serif" >process day - exp result effect plot</text>
<text x="938.25" y="1305.9" font-size="32" text-anchor="middle" font-family="'Liberation Sans', Arial, Helvetica, sans-serif" >process day (d)</text>
<text transform="translate(38.9,671.3) rotate(-90)" font-size="26.6" text-anchor="middle" font-family="'Liberation Sans', Arial, Helvetica, sans-serif">LT result (probability)</text>
<rect x="123.9" y="1469.6" width="400" height="25.3" fill="#f2f2f2" stroke="#000" stroke-width="1.9"/>
<polygon points="133.2,1540.4 235.2,1537.1 323.6,1524.4 448.3,1506.5 514.5,1502.7 514.5,1556.7 448.3,1557.4 323.6,1562.5 235.2,1591.8 133.2,1666.9" fill="#e4e7f4" stroke="none"/>
<path d="M136.6 1815.9H138V1799.9H136.6ZM150.1 1815.9H151.5V1799.9H150.1ZM151.9 1815.9H153.3V1799.9H151.9ZM170.6 1815.9H172V1799.9H170.6ZM173.3 1815.9H174.7V1799.9H173.3ZM182.4 1815.9H183.8V1799.9H182.4ZM189.1 1815.9H190.5V1799.9H189.1ZM191.3 1815.9H192.7V1799.9H191.3ZM196.4 1815.9H197.8V1799.9H196.4ZM206.2 1815.9H207.6V1799.9H206.2ZM208.6 1815.9H210V1799.9H208.6ZM210.2 1815.9H211.6V1799.9H210.2ZM215.2 1815.9H216.6V1799.9H215.2ZM222.8 1815.9H224.2V1799.9H222.8ZM228 1815.9H229.4V1799.9H228ZM229.2 1815.9H230.6V1799.9H229.2ZM234.2 1815.9H235.6V1799.9H234.2ZM235.4 1815.9H236.8V1799.9H235.4ZM236.7 1815.9H238.1V1799.9H236.7ZM237.9 1815.9H239.3V1799.9H237.9ZM240.1 1815.9H241.5V1799.9H240.1ZM241.3 1815.9H242.7V1799.9H241.3ZM246 1815.9H247.4V1799.9H246ZM247.2 1815.9H248.6V1799.9H247.2ZM249.4 1815.9H250.8V1799.9H249.4ZM259.6 1815.9H261V1799.9H259.6ZM263.7 1815.9H265.1V1799.9H263.7ZM265.2 1815.9H266.6V1799.9H265.2ZM266.5 1815.9H267.9V1799.9H266.5ZM273.9 1815.9H275.3V1799.9H273.9ZM275.2 1815.9H276.6V1799.9H275.2ZM276.4 1815.9H277.8V1799.9H276.4ZM278.6 1815.9H280V1799.9H278.6ZM280.4 1815.9H281.8V1799.9H280.4ZM285.1 1815.9H286.5V1799.9H285.1ZM287.6 1815.9H289V1799.9H287.6ZM288.8 1815.9H290.2V1799.9H288.8ZM291.3 1815.9H292.7V1799.9H291.3ZM295.3 1815.9H296.7V1799.9H295.3ZM297.5 1815.9H298.9V1799.9H297.5ZM298.8 1815.9H300.2V1799.9H298.8ZM300 1815.9H301.4V1799.9H300ZM304.3 1815.9H305.7V1799.9H304.3ZM310.9 1815.9H312.3V1799.9H310.9ZM316.1 1815.9H317.5V1799.9H316.1ZM318 1815.9H319.4V1799.9H318ZM319.9 1815.9H321.3V1799.9H319.9ZM323.2 1815.9H324.6V1799.9H323.2ZM326.4 1815.9H327.8V1799.9H326.4ZM329.7 1815.9H331.1V1799.9H329.7ZM338.2 1815.9H339.6V1799.9H338.2ZM342.1 1815.9H343.5V1799.9H342.1ZM344 1815.9H345.4V1799.9H344ZM346 1815.9H347.4V1799.9H346ZM353.1 1815.9H354.5V1799.9H353.1ZM355.1 1815.9H356.5V1799.9H355.1ZM357.1 1815.9H358.5V1799.9H357.1ZM359 1815.9H360.4V1799.9H359ZM360.3 1815.9H361.7V1799.9H360.3ZM364.9 1815.9H366.3V1799.9H364.9ZM367.5 1815.9H368.9V1799.9H367.5ZM369.4 1815.9H370.8V1799.9H369.4ZM370.7 1815.9H372.1V1799.9H370.7ZM374 1815.9H375.4V1799.9H374ZM377.3 1815.9H378.7V1799.9H377.3ZM379.9 1815.9H381.3V1799.9H379.9ZM381.2 1815.9H382.6V1799.9H381.2ZM387 1815.9H388.4V1799.9H387ZM399.7 1815.9H401.1V1799.9H399.7ZM405.3 1815.9H406.7V1799.9H405.3ZM412.5 1815.9H413.9V1799.9H412.5ZM420.9 1815.9H422.3V1799.9H420.9ZM422.9 1815.9H424.3V1799.9H422.9ZM424.8 1815.9H426.2V1799.9H424.8ZM426.8 1815.9H428.2V1799.9H426.8ZM431.8 1815.9H433.2V1799.9H431.8ZM454.2 1815.9H455.6V1799.9H454.2ZM466.6 1815.9H468V1799.9H466.6ZM473.1 1815.9H474.5V1799.9H473.1ZM475.6 1815.9H477V1799.9H475.6ZM482.2 1815.9H483.6V1799.9H482.2ZM514.8 1815.9H516.2V1799.9H514.8ZM518.1 1815.9H519.5V1799.9H518.1Z" fill="#000" stroke="none"/>
<polyline points="133.3,1592.14 139.66,1589.97 146.01,1587.83 152.37,1585.72 158.73,1583.64 165.09,1581.6 171.44,1579.58 177.8,1577.6 184.16,1575.65 190.52,1573.73 196.87,1571.84 203.23,1569.99 209.59,1568.17 215.95,1566.38 222.3,1564.63 228.66,1562.91 235.02,1561.22 241.38,1559.57 247.73,1557.95 254.09,1556.36 260.45,1554.81 266.81,1553.28 273.16,1551.79 279.52,1550.34 285.88,1548.91 292.23,1547.52 298.59,1546.15 304.95,1544.82 311.31,1543.52 317.66,1542.25 324.02,1541.01 330.38,1539.8 336.74,1538.62 343.09,1537.47 349.45,1536.34 355.81,1535.25 362.17,1534.18 368.52,1533.14 374.88,1532.12 381.24,1531.13 387.6,1530.17 393.95,1529.23 400.31,1528.32 406.67,1527.43 413.03,1526.57 419.38,1525.72 425.74,1524.9 432.1,1524.11 438.45,1523.33 444.81,1522.58 451.17,1521.85 457.53,1521.13 463.88,1520.44 470.24,1519.77 476.6,1519.12 482.96,1518.48 489.31,1517.86 495.67,1517.27 502.03,1516.68 508.39,1516.12 514.74,1515.57" fill="none" stroke="#3064a6" stroke-width="3.3" stroke-linecap="round" stroke-linejoin="round"/>
<rect x="123.9" y="1494.9" width="400" height="321" fill="none" stroke="#000" stroke-width="1.9"/>
<text x="247.67" y="1492.1" font-size="26.6" font-family="'Liberation Sans', Arial, Helvetica, sans-serif">LT.result =</text>
<text x="379.26" y="1492.1" font-size="26.1" font-family="'Liberation Serif', 'Times New Roman', serif">IV</text>
<line x1="123.9" y1="1809.7" x2="110.9" y2="1809.7" stroke="#000" stroke-width="1.9"/>
<line x1="523.9" y1="1809.7" x2="536.9" y2="1809.7" stroke="#000" stroke-width="1.9"/>
<line x1="123.9" y1="1747.44" x2="110.9" y2="1747.44" stroke="#000" stroke-width="1.9"/>
<line x1="523.9" y1="1747.44" x2="536.9" y2="1747.44" stroke="#000" stroke-width="1.9"/>
<line x1="123.9" y1="1685.18" x2="110.9" y2="1685.18" stroke="#000" stroke-width="1.9"/>
<line x1="523.9" y1="1685.18" x2="536.9" y2="1685.18" stroke="#000" stroke-width="1.9"/>
<line x1="123.9" y1="1622.92" x2="110.9" y2="1622.92" stroke="#000" stroke-width="1.9"/>
<line x1="523.9" y1="1622.92" x2="536.9" y2="1622.92" stroke="#000" stroke-width="1.9"/>
<line x1="123.9" y1="1560.66" x2="110.9" y2="1560.66" stroke="#000" stroke-width="1.9"/>
<line x1="523.9" y1="1560.66" x2="536.9" y2="1560.66" stroke="#000" stroke-width="1.9"/>
<line x1="123.9" y1="1498.4" x2="110.9" y2="1498.4" stroke="#000" stroke-width="1.9"/>
<line x1="523.9" y1="1498.4" x2="536.9" y2="1498.4" stroke="#000" stroke-width="1.9"/>
<text x="99.25" y="1819.15" font-size="26.8" text-anchor="end" font-family="'Liberation Sans', Arial, Helvetica, sans-serif" >0.0</text>
<text x="99.25" y="1756.89" font-size="26.8" text-anchor="end" font-family="'Liberation Sans', Arial, Helvetica, sans-serif" >0.2</text>
<text x="99.25" y="1694.63" font-size="26.8" text-anchor="end" font-family="'Liberation Sans', Arial, Helvetica, sans-serif" >0.4</text>
<text x="99.25" y="1632.37" font-size="26.8" text-anchor="end" font-family="'Liberation Sans', Arial, Helvetica, sans-serif" >0.6</text>
<text x="99.25" y="1570.11" font-size="26.8" text-anchor="end" font-family="'Liberation Sans', Arial, Helvetica, sans-serif" >0.8</text>
<text x="99.25" y="1507.85" font-size="26.8" text-anchor="end" font-family="'Liberation Sans', Arial, Helvetica, sans-serif" >1.0</text>
<rect x="123.9" y="1815.9" width="400" height="25.3" fill="#f2f2f2" stroke="#000" stroke-width="1.9"/>
<polygon points="133.2,2073.8 235.2,2103.1 323.6,2119.1 448.3,2123.4 514.5,2124 514.5,2152.7 448.3,2150.2 323.6,2146.3 235.2,2141.3 133.2,2136.2" fill="#e4e7f4" stroke="none"/>
<path d="M136.6 2162.2H138V2146.2H136.6ZM150.1 2162.2H151.5V2146.2H150.1ZM151.9 2162.2H153.3V2146.2H151.9ZM170.6 2162.2H172V2146.2H170.6ZM173.3 2162.2H174.7V2146.2H173.3ZM182.4 2162.2H183.8V2146.2H182.4ZM189.1 2162.2H190.5V2146.2H189.1ZM191.3 2162.2H192.7V2146.2H191.3ZM196.4 2162.2H197.8V2146.2H196.4ZM206.2 2162.2H207.6V2146.2H206.2ZM208.6 2162.2H210V2146.2H208.6ZM210.2 2162.2H211.6V2146.2H210.2ZM215.2 2162.2H216.6V2146.2H215.2ZM222.8 2162.2H224.2V2146.2H222.8ZM228 2162.2H229.4V2146.2H228ZM229.2 2162.2H230.6V2146.2H229.2ZM234.2 2162.2H235.6V2146.2H234.2ZM235.4 2162.2H236.8V2146.2H235.4ZM236.7 2162.2H238.1V2146.2H236.7ZM237.9 2162.2H239.3V2146.2H237.9ZM240.1 2162.2H241.5V2146.2H240.1ZM241.3 2162.2H242.7V2146.2H241.3ZM246 2162.2H247.4V2146.2H246ZM247.2 2162.2H248.6V2146.2H247.2ZM249.4 2162.2H250.8V2146.2H249.4ZM259.6 2162.2H261V2146.2H259.6ZM263.7 2162.2H265.1V2146.2H263.7ZM265.2 2162.2H266.6V2146.2H265.2ZM266.5 2162.2H267.9V2146.2H266.5ZM273.9 2162.2H275.3V2146.2H273.9ZM275.2 2162.2H276.6V2146.2H275.2ZM276.4 2162.2H277.8V2146.2H276.4ZM278.6 2162.2H280V2146.2H278.6ZM280.4 2162.2H281.8V2146.2H280.4ZM285.1 2162.2H286.5V2146.2H285.1ZM287.6 2162.2H289V2146.2H287.6ZM288.8 2162.2H290.2V2146.2H288.8ZM291.3 2162.2H292.7V2146.2H291.3ZM295.3 2162.2H296.7V2146.2H295.3ZM297.5 2162.2H298.9V2146.2H297.5ZM298.8 2162.2H300.2V2146.2H298.8ZM300 2162.2H301.4V2146.2H300ZM304.3 2162.2H305.7V2146.2H304.3ZM310.9 2162.2H312.3V2146.2H310.9ZM316.1 2162.2H317.5V2146.2H316.1ZM318 2162.2H319.4V2146.2H318ZM319.9 2162.2H321.3V2146.2H319.9ZM323.2 2162.2H324.6V2146.2H323.2ZM326.4 2162.2H327.8V2146.2H326.4ZM329.7 2162.2H331.1V2146.2H329.7ZM338.2 2162.2H339.6V2146.2H338.2ZM342.1 2162.2H343.5V2146.2H342.1ZM344 2162.2H345.4V2146.2H344ZM346 2162.2H347.4V2146.2H346ZM353.1 2162.2H354.5V2146.2H353.1ZM355.1 2162.2H356.5V2146.2H355.1ZM357.1 2162.2H358.5V2146.2H357.1ZM359 2162.2H360.4V2146.2H359ZM360.3 2162.2H361.7V2146.2H360.3ZM364.9 2162.2H366.3V2146.2H364.9ZM367.5 2162.2H368.9V2146.2H367.5ZM369.4 2162.2H370.8V2146.2H369.4ZM370.7 2162.2H372.1V2146.2H370.7ZM374 2162.2H375.4V2146.2H374ZM377.3 2162.2H378.7V2146.2H377.3ZM379.9 2162.2H381.3V2146.2H379.9ZM381.2 2162.2H382.6V2146.2H381.2ZM387 2162.2H388.4V2146.2H387ZM399.7 2162.2H401.1V2146.2H399.7ZM405.3 2162.2H406.7V2146.2H405.3ZM412.5 2162.2H413.9V2146.2H412.5ZM420.9 2162.2H422.3V2146.2H420.9ZM422.9 2162.2H424.3V2146.2H422.9ZM424.8 2162.2H426.2V2146.2H424.8ZM426.8 2162.2H428.2V2146.2H426.8ZM431.8 2162.2H433.2V2146.2H431.8ZM454.2 2162.2H455.6V2146.2H454.2ZM466.6 2162.2H468V2146.2H466.6ZM473.1 2162.2H474.5V2146.2H473.1ZM475.6 2162.2H477V2146.2H475.6ZM482.2 2162.2H483.6V2146.2H482.2ZM514.8 2162.2H516.2V2146.2H514.8ZM518.1 2162.2H519.5V2146.2H518.1Z" fill="#000" stroke="none"/>
<polyline points="133.3,2113.56 139.66,2114.32 146.01,2115.08 152.37,2115.84 158.73,2116.6 165.09,2117.36 171.44,2118.12 177.8,2118.87 184.16,2119.63 190.52,2120.38 196.87,2121.12 203.23,2121.86 209.59,2122.6 215.95,2123.33 222.3,2124.05 228.66,2124.77 235.02,2125.48 241.38,2126.18 247.73,2126.88 254.09,2127.56 260.45,2128.24 266.81,2128.91 273.16,2129.56 279.52,2130.21 285.88,2130.85 292.23,2131.48 298.59,2132.1 304.95,2132.71 311.31,2133.3 317.66,2133.89 324.02,2134.47 330.38,2135.03 336.74,2135.59 343.09,2136.13 349.45,2136.66 355.81,2137.18 362.17,2137.69 368.52,2138.19 374.88,2138.68 381.24,2139.16 387.6,2139.63 393.95,2140.09 400.31,2140.54 406.67,2140.97 413.03,2141.4 419.38,2141.81 425.74,2142.22 432.1,2142.62 438.45,2143 444.81,2143.38 451.17,2143.75 457.53,2144.11 463.88,2144.45 470.24,2144.79 476.6,2145.13 482.96,2145.45 489.31,2145.76 495.67,2146.07 502.03,2146.36 508.39,2146.65 514.74,2146.94" fill="none" stroke="#3064a6" stroke-width="3.3" stroke-linecap="round" stroke-linejoin="round"/>
<rect x="123.9" y="1841.2" width="400" height="321" fill="none" stroke="#000" stroke-width="1.9"/>
<text x="224.47" y="1838.4" font-size="26.6" font-family="'Liberation Sans', Arial, Helvetica, sans-serif">LT.result =</text>
<text x="358.76" y="1838.4" font-size="26.1" font-family="'Liberation Serif', 'Times New Roman', serif">III-IV</text>
<line x1="123.9" y1="2156" x2="110.9" y2="2156" stroke="#000" stroke-width="1.9"/>
<line x1="523.9" y1="2156" x2="536.9" y2="2156" stroke="#000" stroke-width="1.9"/>
<line x1="123.9" y1="2093.74" x2="110.9" y2="2093.74" stroke="#000" stroke-width="1.9"/>
<line x1="523.9" y1="2093.74" x2="536.9" y2="2093.74" stroke="#000" stroke-width="1.9"/>
<line x1="123.9" y1="2031.48" x2="110.9" y2="2031.48" stroke="#000" stroke-width="1.9"/>
<line x1="523.9" y1="2031.48" x2="536.9" y2="2031.48" stroke="#000" stroke-width="1.9"/>
<line x1="123.9" y1="1969.22" x2="110.9" y2="1969.22" stroke="#000" stroke-width="1.9"/>
<line x1="523.9" y1="1969.22" x2="536.9" y2="1969.22" stroke="#000" stroke-width="1.9"/>
<line x1="123.9" y1="1906.96" x2="110.9" y2="1906.96" stroke="#000" stroke-width="1.9"/>
<line x1="523.9" y1="1906.96" x2="536.9" y2="1906.96" stroke="#000" stroke-width="1.9"/>
<line x1="123.9" y1="1844.7" x2="110.9" y2="1844.7" stroke="#000" stroke-width="1.9"/>
<line x1="523.9" y1="1844.7" x2="536.9" y2="1844.7" stroke="#000" stroke-width="1.9"/>
<text x="548.3" y="2165.45" font-size="26.8" text-anchor="start" font-family="'Liberation Sans', Arial, Helvetica, sans-serif" >0.0</text>
<text x="548.3" y="2103.19" font-size="26.8" text-anchor="start" font-family="'Liberation Sans', Arial, Helvetica, sans-serif" >0.2</text>
<text x="548.3" y="2040.93" font-size="26.8" text-anchor="start" font-family="'Liberation Sans', Arial, Helvetica, sans-serif" >0.4</text>
<text x="548.3" y="1978.67" font-size="26.8" text-anchor="start" font-family="'Liberation Sans', Arial, Helvetica, sans-serif" >0.6</text>
<text x="548.3" y="1916.41" font-size="26.8" text-anchor="start" font-family="'Liberation Sans', Arial, Helvetica, sans-serif" >0.8</text>
<text x="548.3" y="1854.15" font-size="26.8" text-anchor="start" font-family="'Liberation Sans', Arial, Helvetica, sans-serif" >1.0</text>
<rect x="123.9" y="2162.2" width="400" height="25.3" fill="#f2f2f2" stroke="#000" stroke-width="1.9"/>
<polygon points="133.2,2392.9 235.2,2448.4 323.6,2467.5 448.3,2471 514.5,2471.8 514.5,2499.8 448.3,2494.7 323.6,2490.9 235.2,2484.5 133.2,2482.7" fill="#e4e7f4" stroke="none"/>
<path d="M136.6 2508.5H138V2492.5H136.6ZM150.1 2508.5H151.5V2492.5H150.1ZM151.9 2508.5H153.3V2492.5H151.9ZM170.6 2508.5H172V2492.5H170.6ZM173.3 2508.5H174.7V2492.5H173.3ZM182.4 2508.5H183.8V2492.5H182.4ZM189.1 2508.5H190.5V2492.5H189.1ZM191.3 2508.5H192.7V2492.5H191.3ZM196.4 2508.5H197.8V2492.5H196.4ZM206.2 2508.5H207.6V2492.5H206.2ZM208.6 2508.5H210V2492.5H208.6ZM210.2 2508.5H211.6V2492.5H210.2ZM215.2 2508.5H216.6V2492.5H215.2ZM222.8 2508.5H224.2V2492.5H222.8ZM228 2508.5H229.4V2492.5H228ZM229.2 2508.5H230.6V2492.5H229.2ZM234.2 2508.5H235.6V2492.5H234.2ZM235.4 2508.5H236.8V2492.5H235.4ZM236.7 2508.5H238.1V2492.5H236.7ZM237.9 2508.5H239.3V2492.5H237.9ZM240.1 2508.5H241.5V2492.5H240.1ZM241.3 2508.5H242.7V2492.5H241.3ZM246 2508.5H247.4V2492.5H246ZM247.2 2508.5H248.6V2492.5H247.2ZM249.4 2508.5H250.8V2492.5H249.4ZM259.6 2508.5H261V2492.5H259.6ZM263.7 2508.5H265.1V2492.5H263.7ZM265.2 2508.5H266.6V2492.5H265.2ZM266.5 2508.5H267.9V2492.5H266.5ZM273.9 2508.5H275.3V2492.5H273.9ZM275.2 2508.5H276.6V2492.5H275.2ZM276.4 2508.5H277.8V2492.5H276.4ZM278.6 2508.5H280V2492.5H278.6ZM280.4 2508.5H281.8V2492.5H280.4ZM285.1 2508.5H286.5V2492.5H285.1ZM287.6 2508.5H289V2492.5H287.6ZM288.8 2508.5H290.2V2492.5H288.8ZM291.3 2508.5H292.7V2492.5H291.3ZM295.3 2508.5H296.7V2492.5H295.3ZM297.5 2508.5H298.9V2492.5H297.5ZM298.8 2508.5H300.2V2492.5H298.8ZM300 2508.5H301.4V2492.5H300ZM304.3 2508.5H305.7V2492.5H304.3ZM310.9 2508.5H312.3V2492.5H310.9ZM316.1 2508.5H317.5V2492.5H316.1ZM318 2508.5H319.4V2492.5H318ZM319.9 2508.5H321.3V2492.5H319.9ZM323.2 2508.5H324.6V2492.5H323.2ZM326.4 2508.5H327.8V2492.5H326.4ZM329.7 2508.5H331.1V2492.5H329.7ZM338.2 2508.5H339.6V2492.5H338.2ZM342.1 2508.5H343.5V2492.5H342.1ZM344 2508.5H345.4V2492.5H344ZM346 2508.5H347.4V2492.5H346ZM353.1 2508.5H354.5V2492.5H353.1ZM355.1 2508.5H356.5V2492.5H355.1ZM357.1 2508.5H358.5V2492.5H357.1ZM359 2508.5H360.4V2492.5H359ZM360.3 2508.5H361.7V2492.5H360.3ZM364.9 2508.5H366.3V2492.5H364.9ZM367.5 2508.5H368.9V2492.5H367.5ZM369.4 2508.5H370.8V2492.5H369.4ZM370.7 2508.5H372.1V2492.5H370.7ZM374 2508.5H375.4V2492.5H374ZM377.3 2508.5H378.7V2492.5H377.3ZM379.9 2508.5H381.3V2492.5H379.9ZM381.2 2508.5H382.6V2492.5H381.2ZM387 2508.5H388.4V2492.5H387ZM399.7 2508.5H401.1V2492.5H399.7ZM405.3 2508.5H406.7V2492.5H405.3ZM412.5 2508.5H413.9V2492.5H412.5ZM420.9 2508.5H422.3V2492.5H420.9ZM422.9 2508.5H424.3V2492.5H422.9ZM424.8 2508.5H426.2V2492.5H424.8ZM426.8 2508.5H428.2V2492.5H426.8ZM431.8 2508.5H433.2V2492.5H431.8ZM454.2 2508.5H455.6V2492.5H454.2ZM466.6 2508.5H468V2492.5H466.6ZM473.1 2508.5H474.5V2492.5H473.1ZM475.6 2508.5H477V2492.5H475.6ZM482.2 2508.5H483.6V2492.5H482.2ZM514.8 2508.5H516.2V2492.5H514.8ZM518.1 2508.5H519.5V2492.5H518.1Z" fill="#000" stroke="none"/>
<polyline points="133.3,2451 139.66,2452.41 146.01,2453.79 152.37,2455.14 158.73,2456.46 165.09,2457.75 171.44,2459 177.8,2460.23 184.16,2461.43 190.52,2462.59 196.87,2463.73 203.23,2464.85 209.59,2465.93 215.95,2466.99 222.3,2468.02 228.66,2469.02 235.02,2470 241.38,2470.95 247.73,2471.88 254.09,2472.78 260.45,2473.66 266.81,2474.51 273.16,2475.34 279.52,2476.15 285.88,2476.94 292.23,2477.7 298.59,2478.45 304.95,2479.17 311.31,2479.87 317.66,2480.56 324.02,2481.22 330.38,2481.87 336.74,2482.49 343.09,2483.1 349.45,2483.69 355.81,2484.27 362.17,2484.83 368.52,2485.37 374.88,2485.89 381.24,2486.4 387.6,2486.9 393.95,2487.38 400.31,2487.85 406.67,2488.3 413.03,2488.74 419.38,2489.16 425.74,2489.58 432.1,2489.98 438.45,2490.36 444.81,2490.74 451.17,2491.11 457.53,2491.46 463.88,2491.8 470.24,2492.14 476.6,2492.46 482.96,2492.77 489.31,2493.07 495.67,2493.37 502.03,2493.65 508.39,2493.93 514.74,2494.19" fill="none" stroke="#3064a6" stroke-width="3.3" stroke-linecap="round" stroke-linejoin="round"/>
<rect x="123.9" y="2187.5" width="400" height="321" fill="none" stroke="#000" stroke-width="1.9"/>
<text x="247.67" y="2184.7" font-size="26.6" font-family="'Liberation Sans', Arial, Helvetica, sans-serif">LT.result =</text>
<text x="378.56" y="2184.7" font-size="26.1" font-family="'Liberation Serif', 'Times New Roman', serif">III</text>
<line x1="123.9" y1="2502.3" x2="110.9" y2="2502.3" stroke="#000" stroke-width="1.9"/>
<line x1="523.9" y1="2502.3" x2="536.9" y2="2502.3" stroke="#000" stroke-width="1.9"/>
<line x1="123.9" y1="2440.04" x2="110.9" y2="2440.04" stroke="#000" stroke-width="1.9"/>
<line x1="523.9" y1="2440.04" x2="536.9" y2="2440.04" stroke="#000" stroke-width="1.9"/>
<line x1="123.9" y1="2377.78" x2="110.9" y2="2377.78" stroke="#000" stroke-width="1.9"/>
<line x1="523.9" y1="2377.78" x2="536.9" y2="2377.78" stroke="#000" stroke-width="1.9"/>
<line x1="123.9" y1="2315.52" x2="110.9" y2="2315.52" stroke="#000" stroke-width="1.9"/>
<line x1="523.9" y1="2315.52" x2="536.9" y2="2315.52" stroke="#000" stroke-width="1.9"/>
<line x1="123.9" y1="2253.26" x2="110.9" y2="2253.26" stroke="#000" stroke-width="1.9"/>
<line x1="523.9" y1="2253.26" x2="536.9" y2="2253.26" stroke="#000" stroke-width="1.9"/>
<line x1="123.9" y1="2191" x2="110.9" y2="2191" stroke="#000" stroke-width="1.9"/>
<line x1="523.9" y1="2191" x2="536.9" y2="2191" stroke="#000" stroke-width="1.9"/>
<text x="99.25" y="2511.75" font-size="26.8" text-anchor="end" font-family="'Liberation Sans', Arial, Helvetica, sans-serif" >0.0</text>
<text x="99.25" y="2449.49" font-size="26.8" text-anchor="end" font-family="'Liberation Sans', Arial, Helvetica, sans-serif" >0.2</text>
<text x="99.25" y="2387.23" font-size="26.8" text-anchor="end" font-family="'Liberation Sans', Arial, Helvetica, sans-serif" >0.4</text>
<text x="99.25" y="2324.97" font-size="26.8" text-anchor="end" font-family="'Liberation Sans', Arial, Helvetica, sans-serif" >0.6</text>
<text x="99.25" y="2262.71" font-size="26.8" text-anchor="end" font-family="'Liberation Sans', Arial, Helvetica, sans-serif" >0.8</text>
<text x="99.25" y="2200.45" font-size="26.8" text-anchor="end" font-family="'Liberation Sans', Arial, Helvetica, sans-serif" >1.0</text>
<line x1="133.3" y1="1469.6" x2="133.3" y2="1456.4" stroke="#000" stroke-width="1.9"/>
<line x1="133.3" y1="2508.5" x2="133.3" y2="2521.1" stroke="#000" stroke-width="1.9"/>
<text x="133.3" y="2552.8" font-size="26.8" text-anchor="middle" font-family="'Liberation Sans', Arial, Helvetica, sans-serif" >-20</text>
<line x1="196.98" y1="1469.6" x2="196.98" y2="1456.4" stroke="#000" stroke-width="1.9"/>
<line x1="196.98" y1="2508.5" x2="196.98" y2="2521.1" stroke="#000" stroke-width="1.9"/>
<text x="196.98" y="2552.8" font-size="26.8" text-anchor="middle" font-family="'Liberation Sans', Arial, Helvetica, sans-serif" >-10</text>
<line x1="260.66" y1="1469.6" x2="260.66" y2="1456.4" stroke="#000" stroke-width="1.9"/>
<line x1="260.66" y1="2508.5" x2="260.66" y2="2521.1" stroke="#000" stroke-width="1.9"/>
<text x="268.16" y="2552.8" font-size="26.8" text-anchor="middle" font-family="'Liberation Sans', Arial, Helvetica, sans-serif" >0</text>
<line x1="324.34" y1="1469.6" x2="324.34" y2="1456.4" stroke="#000" stroke-width="1.9"/>
<line x1="324.34" y1="2508.5" x2="324.34" y2="2521.1" stroke="#000" stroke-width="1.9"/>
<text x="327.74" y="2552.8" font-size="26.8" text-anchor="middle" font-family="'Liberation Sans', Arial, Helvetica, sans-serif" >10</text>
<line x1="388.02" y1="1469.6" x2="388.02" y2="1456.4" stroke="#000" stroke-width="1.9"/>
<line x1="388.02" y1="2508.5" x2="388.02" y2="2521.1" stroke="#000" stroke-width="1.9"/>
<text x="391.42" y="2552.8" font-size="26.8" text-anchor="middle" font-family="'Liberation Sans', Arial, Helvetica, sans-serif" >20</text>
<line x1="451.7" y1="1469.6" x2="451.7" y2="1456.4" stroke="#000" stroke-width="1.9"/>
<line x1="451.7" y1="2508.5" x2="451.7" y2="2521.1" stroke="#000" stroke-width="1.9"/>
<text x="455.1" y="2552.8" font-size="26.8" text-anchor="middle" font-family="'Liberation Sans', Arial, Helvetica, sans-serif" >30</text>
<line x1="515.38" y1="1469.6" x2="515.38" y2="1456.4" stroke="#000" stroke-width="1.9"/>
<line x1="515.38" y1="2508.5" x2="515.38" y2="2521.1" stroke="#000" stroke-width="1.9"/>
<text x="518.78" y="2552.8" font-size="26.8" text-anchor="middle" font-family="'Liberation Sans', Arial, Helvetica, sans-serif" >40</text>
<text x="322.75" y="1405.5" font-size="31.6" text-anchor="middle" font-family="'Liberation Sans', Arial, Helvetica, sans-serif" >NE% change effect plot</text>
<text x="310.75" y="2597.2" font-size="26.5" text-anchor="middle" font-family="'Liberation Sans', Arial, Helvetica, sans-serif" >NE% change</text>
<text transform="translate(72.1,2002) rotate(-90)" font-size="26.6" text-anchor="middle" font-family="'Liberation Sans', Arial, Helvetica, sans-serif">LT.result (probability)</text>
<rect x="744" y="1469.6" width="400.3" height="25.3" fill="#f2f2f2" stroke="#000" stroke-width="1.9"/>
<polygon points="753.2,1520 849.4,1524.4 943.6,1528.2 1039.1,1515.5 1134.5,1502.7 1134.5,1570.2 1039.1,1561.3 943.6,1576.5 849.4,1641.4 753.2,1722.1" fill="#e4e7f4" stroke="none"/>
<path d="M754.4 1815.9H755.8V1799.9H754.4ZM843.7 1815.9H845.1V1799.9H843.7ZM859.6 1815.9H861V1799.9H859.6ZM870.1 1815.9H871.5V1799.9H870.1ZM879 1815.9H880.4V1799.9H879ZM888.1 1815.9H889.5V1799.9H888.1ZM895.3 1815.9H898.9V1799.9H895.3ZM901.2 1815.9H902.6V1799.9H901.2ZM910.8 1815.9H915.4V1799.9H910.8ZM919.2 1815.9H920.6V1799.9H919.2ZM923.5 1815.9H924.9V1799.9H923.5ZM929.4 1815.9H931.8V1799.9H929.4ZM933.1 1815.9H938.3V1799.9H933.1ZM939 1815.9H942.4V1799.9H939ZM945.5 1815.9H946.9V1799.9H945.5ZM951.1 1815.9H960.9V1799.9H951.1ZM964.1 1815.9H971.5V1799.9H964.1ZM973.7 1815.9H982.6V1799.9H973.7ZM988 1815.9H1005.6V1799.9H988ZM1009.1 1815.9H1018.6V1799.9H1009.1ZM1022.1 1815.9H1027.6V1799.9H1022.1ZM1031.1 1815.9H1034.5V1799.9H1031.1ZM1038.3 1815.9H1042.3V1799.9H1038.3ZM1052 1815.9H1053.5V1799.9H1052ZM1060.1 1815.9H1061.5V1799.9H1060.1ZM1064.4 1815.9H1066.5V1799.9H1064.4ZM1068.8 1815.9H1070.8V1799.9H1068.8ZM1073.1 1815.9H1075.2V1799.9H1073.1ZM1082.8 1815.9H1084.2V1799.9H1082.8ZM1100.8 1815.9H1102.2V1799.9H1100.8ZM1103.3 1815.9H1104.7V1799.9H1103.3ZM1107.6 1815.9H1109V1799.9H1107.6ZM1133.7 1815.9H1135.1V1799.9H1133.7Z" fill="#000" stroke="none"/>
<polyline points="753.9,1595.59 760.25,1593.7 766.59,1591.83 772.94,1589.98 779.29,1588.15 785.63,1586.34 791.98,1584.55 798.33,1582.79 804.67,1581.04 811.02,1579.32 817.37,1577.62 823.71,1575.94 830.06,1574.28 836.41,1572.65 842.75,1571.04 849.1,1569.45 855.45,1567.88 861.79,1566.34 868.14,1564.82 874.49,1563.32 880.83,1561.85 887.18,1560.4 893.53,1558.97 899.87,1557.57 906.22,1556.19 912.57,1554.83 918.91,1553.5 925.26,1552.19 931.61,1550.9 937.95,1549.63 944.3,1548.39 950.65,1547.17 956.99,1545.97 963.34,1544.8 969.69,1543.64 976.03,1542.51 982.38,1541.4 988.73,1540.31 995.07,1539.24 1001.42,1538.2 1007.77,1537.17 1014.11,1536.16 1020.46,1535.18 1026.81,1534.21 1033.15,1533.27 1039.5,1532.34 1045.85,1531.44 1052.19,1530.55 1058.54,1529.68 1064.89,1528.83 1071.23,1528 1077.58,1527.18 1083.93,1526.39 1090.27,1525.61 1096.62,1524.85 1102.97,1524.1 1109.31,1523.37 1115.66,1522.66 1122.01,1521.96 1128.35,1521.28 1134.7,1520.62" fill="none" stroke="#3064a6" stroke-width="3.3" stroke-linecap="round" stroke-linejoin="round"/>
<rect x="744" y="1494.9" width="400.3" height="321" fill="none" stroke="#000" stroke-width="1.9"/>
<text x="867.62" y="1492.1" font-size="26.6" font-family="'Liberation Sans', Arial, Helvetica, sans-serif">LT.result =</text>
<text x="1001.31" y="1492.1" font-size="26.1" font-family="'Liberation Serif', 'Times New Roman', serif">IV</text>
<line x1="744" y1="1811.1" x2="731" y2="1811.1" stroke="#000" stroke-width="1.9"/>
<line x1="1144.3" y1="1811.1" x2="1157.3" y2="1811.1" stroke="#000" stroke-width="1.9"/>
<line x1="744" y1="1747.82" x2="731" y2="1747.82" stroke="#000" stroke-width="1.9"/>
<line x1="1144.3" y1="1747.82" x2="1157.3" y2="1747.82" stroke="#000" stroke-width="1.9"/>
<line x1="744" y1="1684.54" x2="731" y2="1684.54" stroke="#000" stroke-width="1.9"/>
<line x1="1144.3" y1="1684.54" x2="1157.3" y2="1684.54" stroke="#000" stroke-width="1.9"/>
<line x1="744" y1="1621.26" x2="731" y2="1621.26" stroke="#000" stroke-width="1.9"/>
<line x1="1144.3" y1="1621.26" x2="1157.3" y2="1621.26" stroke="#000" stroke-width="1.9"/>
<line x1="744" y1="1557.98" x2="731" y2="1557.98" stroke="#000" stroke-width="1.9"/>
<line x1="1144.3" y1="1557.98" x2="1157.3" y2="1557.98" stroke="#000" stroke-width="1.9"/>
<text x="719.35" y="1820.55" font-size="26.8" text-anchor="end" font-family="'Liberation Sans', Arial, Helvetica, sans-serif" >0.0</text>
<text x="719.35" y="1757.27" font-size="26.8" text-anchor="end" font-family="'Liberation Sans', Arial, Helvetica, sans-serif" >0.2</text>
<text x="719.35" y="1693.99" font-size="26.8" text-anchor="end" font-family="'Liberation Sans', Arial, Helvetica, sans-serif" >0.4</text>
<text x="719.35" y="1630.71" font-size="26.8" text-anchor="end" font-family="'Liberation Sans', Arial, Helvetica, sans-serif" >0.6</text>
<text x="719.35" y="1567.43" font-size="26.8" text-anchor="end" font-family="'Liberation Sans', Arial, Helvetica, sans-serif" >0.8</text>
<rect x="744" y="1815.9" width="400.3" height="25.3" fill="#f2f2f2" stroke="#000" stroke-width="1.9"/>
<polygon points="753.2,2048.7 849.4,2083.1 943.6,2111.1 1039.1,2120 1134.5,2116.2 1134.5,2153.1 1039.1,2148 943.6,2145.4 849.4,2142.9 753.2,2141.6" fill="#e4e7f4" stroke="none"/>
<path d="M754.4 2162.2H755.8V2146.2H754.4ZM843.7 2162.2H845.1V2146.2H843.7ZM859.6 2162.2H861V2146.2H859.6ZM870.1 2162.2H871.5V2146.2H870.1ZM879 2162.2H880.4V2146.2H879ZM888.1 2162.2H889.5V2146.2H888.1ZM895.3 2162.2H898.9V2146.2H895.3ZM901.2 2162.2H902.6V2146.2H901.2ZM910.8 2162.2H915.4V2146.2H910.8ZM919.2 2162.2H920.6V2146.2H919.2ZM923.5 2162.2H924.9V2146.2H923.5ZM929.4 2162.2H931.8V2146.2H929.4ZM933.1 2162.2H938.3V2146.2H933.1ZM939 2162.2H942.4V2146.2H939ZM945.5 2162.2H946.9V2146.2H945.5ZM951.1 2162.2H960.9V2146.2H951.1ZM964.1 2162.2H971.5V2146.2H964.1ZM973.7 2162.2H982.6V2146.2H973.7ZM988 2162.2H1005.6V2146.2H988ZM1009.1 2162.2H1018.6V2146.2H1009.1ZM1022.1 2162.2H1027.6V2146.2H1022.1ZM1031.1 2162.2H1034.5V2146.2H1031.1ZM1038.3 2162.2H1042.3V2146.2H1038.3ZM1052 2162.2H1053.5V2146.2H1052ZM1060.1 2162.2H1061.5V2146.2H1060.1ZM1064.4 2162.2H1066.5V2146.2H1064.4ZM1068.8 2162.2H1070.8V2146.2H1068.8ZM1073.1 2162.2H1075.2V2146.2H1073.1ZM1082.8 2162.2H1084.2V2146.2H1082.8ZM1100.8 2162.2H1102.2V2146.2H1100.8ZM1103.3 2162.2H1104.7V2146.2H1103.3ZM1107.6 2162.2H1109V2146.2H1107.6ZM1133.7 2162.2H1135.1V2146.2H1133.7Z" fill="#000" stroke="none"/>
<polyline points="753.9,2111.86 760.25,2112.5 766.59,2113.14 772.94,2113.79 779.29,2114.43 785.63,2115.08 791.98,2115.73 798.33,2116.38 804.67,2117.03 811.02,2117.68 817.37,2118.32 823.71,2118.97 830.06,2119.62 836.41,2120.26 842.75,2120.9 849.1,2121.53 855.45,2122.17 861.79,2122.8 868.14,2123.42 874.49,2124.04 880.83,2124.66 887.18,2125.27 893.53,2125.88 899.87,2126.48 906.22,2127.07 912.57,2127.66 918.91,2128.25 925.26,2128.82 931.61,2129.4 937.95,2129.96 944.3,2130.52 950.65,2131.07 956.99,2131.61 963.34,2132.15 969.69,2132.67 976.03,2133.2 982.38,2133.71 988.73,2134.22 995.07,2134.72 1001.42,2135.21 1007.77,2135.69 1014.11,2136.17 1020.46,2136.64 1026.81,2137.1 1033.15,2137.55 1039.5,2137.99 1045.85,2138.43 1052.19,2138.86 1058.54,2139.28 1064.89,2139.7 1071.23,2140.11 1077.58,2140.51 1083.93,2140.9 1090.27,2141.28 1096.62,2141.66 1102.97,2142.03 1109.31,2142.39 1115.66,2142.75 1122.01,2143.1 1128.35,2143.44 1134.7,2143.77" fill="none" stroke="#3064a6" stroke-width="3.3" stroke-linecap="round" stroke-linejoin="round"/>
<rect x="744" y="1841.2" width="400.3" height="321" fill="none" stroke="#000" stroke-width="1.9"/>
<text x="844.52" y="1838.4" font-size="26.6" font-family="'Liberation Sans', Arial, Helvetica, sans-serif">LT.result =</text>
<text x="984.21" y="1838.4" font-size="26.1" font-family="'Liberation Serif', 'Times New Roman', serif">III-IV</text>
<line x1="744" y1="2157.4" x2="731" y2="2157.4" stroke="#000" stroke-width="1.9"/>
<line x1="1144.3" y1="2157.4" x2="1157.3" y2="2157.4" stroke="#000" stroke-width="1.9"/>
<line x1="744" y1="2094.12" x2="731" y2="2094.12" stroke="#000" stroke-width="1.9"/>
<line x1="1144.3" y1="2094.12" x2="1157.3" y2="2094.12" stroke="#000" stroke-width="1.9"/>
<line x1="744" y1="2030.84" x2="731" y2="2030.84" stroke="#000" stroke-width="1.9"/>
<line x1="1144.3" y1="2030.84" x2="1157.3" y2="2030.84" stroke="#000" stroke-width="1.9"/>
<line x1="744" y1="1967.56" x2="731" y2="1967.56" stroke="#000" stroke-width="1.9"/>
<line x1="1144.3" y1="1967.56" x2="1157.3" y2="1967.56" stroke="#000" stroke-width="1.9"/>
<line x1="744" y1="1904.28" x2="731" y2="1904.28" stroke="#000" stroke-width="1.9"/>
<line x1="1144.3" y1="1904.28" x2="1157.3" y2="1904.28" stroke="#000" stroke-width="1.9"/>
<text x="1168.7" y="2166.85" font-size="26.8" text-anchor="start" font-family="'Liberation Sans', Arial, Helvetica, sans-serif" >0.0</text>
<text x="1168.7" y="2103.57" font-size="26.8" text-anchor="start" font-family="'Liberation Sans', Arial, Helvetica, sans-serif" >0.2</text>
<text x="1168.7" y="2040.29" font-size="26.8" text-anchor="start" font-family="'Liberation Sans', Arial, Helvetica, sans-serif" >0.4</text>
<text x="1168.7" y="1977.01" font-size="26.8" text-anchor="start" font-family="'Liberation Sans', Arial, Helvetica, sans-serif" >0.6</text>
<text x="1168.7" y="1913.73" font-size="26.8" text-anchor="start" font-family="'Liberation Sans', Arial, Helvetica, sans-serif" >0.8</text>
<rect x="744" y="2162.2" width="400.3" height="25.3" fill="#f2f2f2" stroke="#000" stroke-width="1.9"/>
<polygon points="753.2,2333.1 849.4,2412 943.6,2457.8 1039.1,2468 1134.5,2463.4 1134.5,2500.6 1039.1,2496 943.6,2492.2 849.4,2490.4 753.2,2492.2" fill="#e4e7f4" stroke="none"/>
<path d="M754.4 2508.5H755.8V2492.5H754.4ZM843.7 2508.5H845.1V2492.5H843.7ZM859.6 2508.5H861V2492.5H859.6ZM870.1 2508.5H871.5V2492.5H870.1ZM879 2508.5H880.4V2492.5H879ZM888.1 2508.5H889.5V2492.5H888.1ZM895.3 2508.5H898.9V2492.5H895.3ZM901.2 2508.5H902.6V2492.5H901.2ZM910.8 2508.5H915.4V2492.5H910.8ZM919.2 2508.5H920.6V2492.5H919.2ZM923.5 2508.5H924.9V2492.5H923.5ZM929.4 2508.5H931.8V2492.5H929.4ZM933.1 2508.5H938.3V2492.5H933.1ZM939 2508.5H942.4V2492.5H939ZM945.5 2508.5H946.9V2492.5H945.5ZM951.1 2508.5H960.9V2492.5H951.1ZM964.1 2508.5H971.5V2492.5H964.1ZM973.7 2508.5H982.6V2492.5H973.7ZM988 2508.5H1005.6V2492.5H988ZM1009.1 2508.5H1018.6V2492.5H1009.1ZM1022.1 2508.5H1027.6V2492.5H1022.1ZM1031.1 2508.5H1034.5V2492.5H1031.1ZM1038.3 2508.5H1042.3V2492.5H1038.3ZM1052 2508.5H1053.5V2492.5H1052ZM1060.1 2508.5H1061.5V2492.5H1060.1ZM1064.4 2508.5H1066.5V2492.5H1064.4ZM1068.8 2508.5H1070.8V2492.5H1068.8ZM1073.1 2508.5H1075.2V2492.5H1073.1ZM1082.8 2508.5H1084.2V2492.5H1082.8ZM1100.8 2508.5H1102.2V2492.5H1100.8ZM1103.3 2508.5H1104.7V2492.5H1103.3ZM1107.6 2508.5H1109V2492.5H1107.6ZM1133.7 2508.5H1135.1V2492.5H1133.7Z" fill="#000" stroke="none"/>
<polyline points="753.9,2448.35 760.25,2449.6 766.59,2450.83 772.94,2452.03 779.29,2453.22 785.63,2454.38 791.98,2455.52 798.33,2456.63 804.67,2457.73 811.02,2458.8 817.37,2459.86 823.71,2460.89 830.06,2461.9 836.41,2462.9 842.75,2463.87 849.1,2464.82 855.45,2465.75 861.79,2466.66 868.14,2467.56 874.49,2468.43 880.83,2469.29 887.18,2470.13 893.53,2470.95 899.87,2471.75 906.22,2472.54 912.57,2473.3 918.91,2474.05 925.26,2474.79 931.61,2475.51 937.95,2476.21 944.3,2476.89 950.65,2477.56 956.99,2478.22 963.34,2478.86 969.69,2479.48 976.03,2480.09 982.38,2480.69 988.73,2481.27 995.07,2481.84 1001.42,2482.4 1007.77,2482.94 1014.11,2483.47 1020.46,2483.99 1026.81,2484.49 1033.15,2484.98 1039.5,2485.46 1045.85,2485.93 1052.19,2486.39 1058.54,2486.84 1064.89,2487.27 1071.23,2487.7 1077.58,2488.11 1083.93,2488.52 1090.27,2488.91 1096.62,2489.3 1102.97,2489.67 1109.31,2490.04 1115.66,2490.39 1122.01,2490.74 1128.35,2491.08 1134.7,2491.41" fill="none" stroke="#3064a6" stroke-width="3.3" stroke-linecap="round" stroke-linejoin="round"/>
<rect x="744" y="2187.5" width="400.3" height="321" fill="none" stroke="#000" stroke-width="1.9"/>
<text x="867.62" y="2184.7" font-size="26.6" font-family="'Liberation Sans', Arial, Helvetica, sans-serif">LT.result =</text>
<text x="1002.21" y="2184.7" font-size="26.1" font-family="'Liberation Serif', 'Times New Roman', serif">III</text>
<line x1="744" y1="2503.7" x2="731" y2="2503.7" stroke="#000" stroke-width="1.9"/>
<line x1="1144.3" y1="2503.7" x2="1157.3" y2="2503.7" stroke="#000" stroke-width="1.9"/>
<line x1="744" y1="2440.42" x2="731" y2="2440.42" stroke="#000" stroke-width="1.9"/>
<line x1="1144.3" y1="2440.42" x2="1157.3" y2="2440.42" stroke="#000" stroke-width="1.9"/>
<line x1="744" y1="2377.14" x2="731" y2="2377.14" stroke="#000" stroke-width="1.9"/>
<line x1="1144.3" y1="2377.14" x2="1157.3" y2="2377.14" stroke="#000" stroke-width="1.9"/>
<line x1="744" y1="2313.86" x2="731" y2="2313.86" stroke="#000" stroke-width="1.9"/>
<line x1="1144.3" y1="2313.86" x2="1157.3" y2="2313.86" stroke="#000" stroke-width="1.9"/>
<line x1="744" y1="2250.58" x2="731" y2="2250.58" stroke="#000" stroke-width="1.9"/>
<line x1="1144.3" y1="2250.58" x2="1157.3" y2="2250.58" stroke="#000" stroke-width="1.9"/>
<text x="719.35" y="2513.15" font-size="26.8" text-anchor="end" font-family="'Liberation Sans', Arial, Helvetica, sans-serif" >0.0</text>
<text x="719.35" y="2449.87" font-size="26.8" text-anchor="end" font-family="'Liberation Sans', Arial, Helvetica, sans-serif" >0.2</text>
<text x="719.35" y="2386.59" font-size="26.8" text-anchor="end" font-family="'Liberation Sans', Arial, Helvetica, sans-serif" >0.4</text>
<text x="719.35" y="2323.31" font-size="26.8" text-anchor="end" font-family="'Liberation Sans', Arial, Helvetica, sans-serif" >0.6</text>
<text x="719.35" y="2260.03" font-size="26.8" text-anchor="end" font-family="'Liberation Sans', Arial, Helvetica, sans-serif" >0.8</text>
<line x1="849.1" y1="1469.6" x2="849.1" y2="1456.4" stroke="#000" stroke-width="1.9"/>
<line x1="849.1" y1="2508.5" x2="849.1" y2="2521.1" stroke="#000" stroke-width="1.9"/>
<text x="849.1" y="2552.8" font-size="26.8" text-anchor="middle" font-family="'Liberation Sans', Arial, Helvetica, sans-serif" >-50</text>
<line x1="968.1" y1="1469.6" x2="968.1" y2="1456.4" stroke="#000" stroke-width="1.9"/>
<line x1="968.1" y1="2508.5" x2="968.1" y2="2521.1" stroke="#000" stroke-width="1.9"/>
<text x="975.6" y="2552.8" font-size="26.8" text-anchor="middle" font-family="'Liberation Sans', Arial, Helvetica, sans-serif" >0</text>
<line x1="1087.1" y1="1469.6" x2="1087.1" y2="1456.4" stroke="#000" stroke-width="1.9"/>
<line x1="1087.1" y1="2508.5" x2="1087.1" y2="2521.1" stroke="#000" stroke-width="1.9"/>
<text x="1090.5" y="2552.8" font-size="26.8" text-anchor="middle" font-family="'Liberation Sans', Arial, Helvetica, sans-serif" >50</text>
<text x="938.1" y="1405.5" font-size="31.6" text-anchor="middle" font-family="'Liberation Sans', Arial, Helvetica, sans-serif" >SA change effect plot</text>
<text x="956.35" y="2597.2" font-size="26.5" text-anchor="middle" font-family="'Liberation Sans', Arial, Helvetica, sans-serif" >SA change (µmol/L)</text>
<text transform="translate(692.1,2002) rotate(-90)" font-size="26.6" text-anchor="middle" font-family="'Liberation Sans', Arial, Helvetica, sans-serif">LT.result (probability)</text>
<rect x="1363.7" y="1469.6" width="400.6" height="25.3" fill="#f2f2f2" stroke="#000" stroke-width="1.9"/>
<polygon points="1373.2,1502.7 1468.2,1514.2 1535.6,1524.4 1632.3,1523.1 1754.5,1515.5 1754.5,1707.6 1632.3,1613.4 1535.6,1565.1 1468.2,1559.2 1373.2,1569.4" fill="#e4e7f4" stroke="none"/>
<path d="M1383.2 1815.9H1384.6V1799.9H1383.2ZM1388.8 1815.9H1390.2V1799.9H1388.8ZM1403.6 1815.9H1405V1799.9H1403.6ZM1406.8 1815.9H1411.8V1799.9H1406.8ZM1417.9 1815.9H1419.3V1799.9H1417.9ZM1423.5 1815.9H1424.9V1799.9H1423.5ZM1426 1815.9H1427.4V1799.9H1426ZM1428.5 1815.9H1429.9V1799.9H1428.5ZM1431.3 1815.9H1432.7V1799.9H1431.3ZM1435.1 1815.9H1436.5V1799.9H1435.1ZM1445 1815.9H1446.8V1799.9H1445ZM1448.4 1815.9H1458V1799.9H1448.4ZM1460.4 1815.9H1461.8V1799.9H1460.4ZM1463.35 1815.9H1464.75V1799.9H1463.35ZM1467.25 1815.9H1468.65V1799.9H1467.25ZM1470.95 1815.9H1472.35V1799.9H1470.95ZM1474.8 1815.9H1477.2V1799.9H1474.8ZM1479.7 1815.9H1484.7V1799.9H1479.7ZM1488.4 1815.9H1490.9V1799.9H1488.4ZM1492.55 1815.9H1493.95V1799.9H1492.55ZM1497.7 1815.9H1501.8V1799.9H1497.7ZM1503.9 1815.9H1512.3V1799.9H1503.9ZM1513.35 1815.9H1514.75V1799.9H1513.35ZM1517 1815.9H1524.7V1799.9H1517ZM1525.7 1815.9H1534V1799.9H1525.7ZM1540.65 1815.9H1542.05V1799.9H1540.65ZM1543.4 1815.9H1562V1799.9H1543.4ZM1564.25 1815.9H1565.65V1799.9H1564.25ZM1574.4 1815.9H1577.8V1799.9H1574.4ZM1581.9 1815.9H1583.7V1799.9H1581.9ZM1587.1 1815.9H1593.7V1799.9H1587.1ZM1598 1815.9H1600.8V1799.9H1598ZM1603.2 1815.9H1604.6V1799.9H1603.2ZM1607.05 1815.9H1608.45V1799.9H1607.05ZM1610.1 1815.9H1613.8V1799.9H1610.1ZM1615.45 1815.9H1616.85V1799.9H1615.45ZM1624.45 1815.9H1625.85V1799.9H1624.45ZM1631.9 1815.9H1633.3V1799.9H1631.9ZM1637.5 1815.9H1638.9V1799.9H1637.5ZM1654.5 1815.9H1655.9V1799.9H1654.5ZM1657.7 1815.9H1659.1V1799.9H1657.7ZM1666.5 1815.9H1667.9V1799.9H1666.5ZM1702.4 1815.9H1703.8V1799.9H1702.4ZM1722 1815.9H1723.4V1799.9H1722Z" fill="#000" stroke="none"/>
<polyline points="1373.5,1521.72 1379.85,1522.34 1386.2,1522.98 1392.55,1523.62 1398.9,1524.27 1405.25,1524.94 1411.6,1525.62 1417.95,1526.31 1424.3,1527.02 1430.65,1527.74 1437,1528.47 1443.35,1529.21 1449.7,1529.97 1456.05,1530.74 1462.4,1531.52 1468.75,1532.32 1475.1,1533.13 1481.45,1533.96 1487.8,1534.8 1494.15,1535.65 1500.5,1536.52 1506.85,1537.41 1513.2,1538.3 1519.55,1539.22 1525.9,1540.14 1532.25,1541.09 1538.6,1542.04 1544.95,1543.02 1551.3,1544.01 1557.65,1545.01 1564,1546.03 1570.35,1547.07 1576.7,1548.12 1583.05,1549.18 1589.4,1550.27 1595.75,1551.37 1602.1,1552.48 1608.45,1553.61 1614.8,1554.76 1621.15,1555.92 1627.5,1557.1 1633.85,1558.3 1640.2,1559.51 1646.55,1560.74 1652.9,1561.98 1659.25,1563.24 1665.6,1564.52 1671.95,1565.81 1678.3,1567.12 1684.65,1568.45 1691,1569.79 1697.35,1571.15 1703.7,1572.52 1710.05,1573.91 1716.4,1575.31 1722.75,1576.73 1729.1,1578.17 1735.45,1579.62 1741.8,1581.09 1748.15,1582.57 1754.5,1584.07" fill="none" stroke="#3064a6" stroke-width="3.3" stroke-linecap="round" stroke-linejoin="round"/>
<rect x="1363.7" y="1494.9" width="400.6" height="321" fill="none" stroke="#000" stroke-width="1.9"/>
<text x="1487.67" y="1492.1" font-size="26.6" font-family="'Liberation Sans', Arial, Helvetica, sans-serif">LT.result =</text>
<text x="1621.26" y="1492.1" font-size="26.1" font-family="'Liberation Serif', 'Times New Roman', serif">IV</text>
<line x1="1363.7" y1="1812" x2="1350.7" y2="1812" stroke="#000" stroke-width="1.9"/>
<line x1="1764.3" y1="1812" x2="1777.3" y2="1812" stroke="#000" stroke-width="1.9"/>
<line x1="1363.7" y1="1748.06" x2="1350.7" y2="1748.06" stroke="#000" stroke-width="1.9"/>
<line x1="1764.3" y1="1748.06" x2="1777.3" y2="1748.06" stroke="#000" stroke-width="1.9"/>
<line x1="1363.7" y1="1684.12" x2="1350.7" y2="1684.12" stroke="#000" stroke-width="1.9"/>
<line x1="1764.3" y1="1684.12" x2="1777.3" y2="1684.12" stroke="#000" stroke-width="1.9"/>
<line x1="1363.7" y1="1620.18" x2="1350.7" y2="1620.18" stroke="#000" stroke-width="1.9"/>
<line x1="1764.3" y1="1620.18" x2="1777.3" y2="1620.18" stroke="#000" stroke-width="1.9"/>
<line x1="1363.7" y1="1556.24" x2="1350.7" y2="1556.24" stroke="#000" stroke-width="1.9"/>
<line x1="1764.3" y1="1556.24" x2="1777.3" y2="1556.24" stroke="#000" stroke-width="1.9"/>
<text x="1339.05" y="1821.45" font-size="26.8" text-anchor="end" font-family="'Liberation Sans', Arial, Helvetica, sans-serif" >0.0</text>
<text x="1339.05" y="1757.51" font-size="26.8" text-anchor="end" font-family="'Liberation Sans', Arial, Helvetica, sans-serif" >0.2</text>
<text x="1339.05" y="1693.57" font-size="26.8" text-anchor="end" font-family="'Liberation Sans', Arial, Helvetica, sans-serif" >0.4</text>
<text x="1339.05" y="1629.63" font-size="26.8" text-anchor="end" font-family="'Liberation Sans', Arial, Helvetica, sans-serif" >0.6</text>
<text x="1339.05" y="1565.69" font-size="26.8" text-anchor="end" font-family="'Liberation Sans', Arial, Helvetica, sans-serif" >0.8</text>
<rect x="1363.7" y="1815.9" width="400.6" height="25.3" fill="#f2f2f2" stroke="#000" stroke-width="1.9"/>
<polygon points="1373.2,2116.7 1468.2,2120.5 1535.6,2116.7 1632.3,2095.8 1754.5,2052.5 1754.5,2144.2 1632.3,2145.4 1535.6,2148 1468.2,2149.3 1373.2,2153.1" fill="#e4e7f4" stroke="none"/>
<path d="M1383.2 2162.2H1384.6V2146.2H1383.2ZM1388.8 2162.2H1390.2V2146.2H1388.8ZM1403.6 2162.2H1405V2146.2H1403.6ZM1406.8 2162.2H1411.8V2146.2H1406.8ZM1417.9 2162.2H1419.3V2146.2H1417.9ZM1423.5 2162.2H1424.9V2146.2H1423.5ZM1426 2162.2H1427.4V2146.2H1426ZM1428.5 2162.2H1429.9V2146.2H1428.5ZM1431.3 2162.2H1432.7V2146.2H1431.3ZM1435.1 2162.2H1436.5V2146.2H1435.1ZM1445 2162.2H1446.8V2146.2H1445ZM1448.4 2162.2H1458V2146.2H1448.4ZM1460.4 2162.2H1461.8V2146.2H1460.4ZM1463.35 2162.2H1464.75V2146.2H1463.35ZM1467.25 2162.2H1468.65V2146.2H1467.25ZM1470.95 2162.2H1472.35V2146.2H1470.95ZM1474.8 2162.2H1477.2V2146.2H1474.8ZM1479.7 2162.2H1484.7V2146.2H1479.7ZM1488.4 2162.2H1490.9V2146.2H1488.4ZM1492.55 2162.2H1493.95V2146.2H1492.55ZM1497.7 2162.2H1501.8V2146.2H1497.7ZM1503.9 2162.2H1512.3V2146.2H1503.9ZM1513.35 2162.2H1514.75V2146.2H1513.35ZM1517 2162.2H1524.7V2146.2H1517ZM1525.7 2162.2H1534V2146.2H1525.7ZM1540.65 2162.2H1542.05V2146.2H1540.65ZM1543.4 2162.2H1562V2146.2H1543.4ZM1564.25 2162.2H1565.65V2146.2H1564.25ZM1574.4 2162.2H1577.8V2146.2H1574.4ZM1581.9 2162.2H1583.7V2146.2H1581.9ZM1587.1 2162.2H1593.7V2146.2H1587.1ZM1598 2162.2H1600.8V2146.2H1598ZM1603.2 2162.2H1604.6V2146.2H1603.2ZM1607.05 2162.2H1608.45V2146.2H1607.05ZM1610.1 2162.2H1613.8V2146.2H1610.1ZM1615.45 2162.2H1616.85V2146.2H1615.45ZM1624.45 2162.2H1625.85V2146.2H1624.45ZM1631.9 2162.2H1633.3V2146.2H1631.9ZM1637.5 2162.2H1638.9V2146.2H1637.5ZM1654.5 2162.2H1655.9V2146.2H1654.5ZM1657.7 2162.2H1659.1V2146.2H1657.7ZM1666.5 2162.2H1667.9V2146.2H1666.5ZM1702.4 2162.2H1703.8V2146.2H1702.4ZM1722 2162.2H1723.4V2146.2H1722Z" fill="#000" stroke="none"/>
<polyline points="1373.5,2143.26 1379.85,2142.96 1386.2,2142.66 1392.55,2142.35 1398.9,2142.03 1405.25,2141.71 1411.6,2141.38 1417.95,2141.05 1424.3,2140.72 1430.65,2140.37 1437,2140.03 1443.35,2139.68 1449.7,2139.32 1456.05,2138.96 1462.4,2138.59 1468.75,2138.22 1475.1,2137.84 1481.45,2137.46 1487.8,2137.07 1494.15,2136.68 1500.5,2136.28 1506.85,2135.87 1513.2,2135.47 1519.55,2135.05 1525.9,2134.63 1532.25,2134.21 1538.6,2133.78 1544.95,2133.35 1551.3,2132.91 1557.65,2132.46 1564,2132.02 1570.35,2131.56 1576.7,2131.1 1583.05,2130.64 1589.4,2130.18 1595.75,2129.7 1602.1,2129.23 1608.45,2128.75 1614.8,2128.27 1621.15,2127.78 1627.5,2127.29 1633.85,2126.79 1640.2,2126.29 1646.55,2125.79 1652.9,2125.29 1659.25,2124.78 1665.6,2124.27 1671.95,2123.76 1678.3,2123.24 1684.65,2122.72 1691,2122.2 1697.35,2121.68 1703.7,2121.16 1710.05,2120.63 1716.4,2120.1 1722.75,2119.58 1729.1,2119.05 1735.45,2118.52 1741.8,2117.99 1748.15,2117.46 1754.5,2116.93" fill="none" stroke="#3064a6" stroke-width="3.3" stroke-linecap="round" stroke-linejoin="round"/>
<rect x="1363.7" y="1841.2" width="400.6" height="321" fill="none" stroke="#000" stroke-width="1.9"/>
<text x="1464.47" y="1838.4" font-size="26.6" font-family="'Liberation Sans', Arial, Helvetica, sans-serif">LT.result =</text>
<text x="1604.26" y="1838.4" font-size="26.1" font-family="'Liberation Serif', 'Times New Roman', serif">III-IV</text>
<line x1="1363.7" y1="2158.3" x2="1350.7" y2="2158.3" stroke="#000" stroke-width="1.9"/>
<line x1="1764.3" y1="2158.3" x2="1777.3" y2="2158.3" stroke="#000" stroke-width="1.9"/>
<line x1="1363.7" y1="2094.36" x2="1350.7" y2="2094.36" stroke="#000" stroke-width="1.9"/>
<line x1="1764.3" y1="2094.36" x2="1777.3" y2="2094.36" stroke="#000" stroke-width="1.9"/>
<line x1="1363.7" y1="2030.42" x2="1350.7" y2="2030.42" stroke="#000" stroke-width="1.9"/>
<line x1="1764.3" y1="2030.42" x2="1777.3" y2="2030.42" stroke="#000" stroke-width="1.9"/>
<line x1="1363.7" y1="1966.48" x2="1350.7" y2="1966.48" stroke="#000" stroke-width="1.9"/>
<line x1="1764.3" y1="1966.48" x2="1777.3" y2="1966.48" stroke="#000" stroke-width="1.9"/>
<line x1="1363.7" y1="1902.54" x2="1350.7" y2="1902.54" stroke="#000" stroke-width="1.9"/>
<line x1="1764.3" y1="1902.54" x2="1777.3" y2="1902.54" stroke="#000" stroke-width="1.9"/>
<text x="1788.7" y="2167.75" font-size="26.8" text-anchor="start" font-family="'Liberation Sans', Arial, Helvetica, sans-serif" >0.0</text>
<text x="1788.7" y="2103.81" font-size="26.8" text-anchor="start" font-family="'Liberation Sans', Arial, Helvetica, sans-serif" >0.2</text>
<text x="1788.7" y="2039.87" font-size="26.8" text-anchor="start" font-family="'Liberation Sans', Arial, Helvetica, sans-serif" >0.4</text>
<text x="1788.7" y="1975.93" font-size="26.8" text-anchor="start" font-family="'Liberation Sans', Arial, Helvetica, sans-serif" >0.6</text>
<text x="1788.7" y="1911.99" font-size="26.8" text-anchor="start" font-family="'Liberation Sans', Arial, Helvetica, sans-serif" >0.8</text>
<rect x="1363.7" y="2162.2" width="400.6" height="25.3" fill="#f2f2f2" stroke="#000" stroke-width="1.9"/>
<polygon points="1373.2,2463.4 1468.2,2468.5 1535.6,2464.9 1632.3,2433.6 1754.5,2349.6 1754.5,2494.7 1632.3,2493.4 1535.6,2494.7 1468.2,2497.3 1373.2,2501.1" fill="#e4e7f4" stroke="none"/>
<path d="M1383.2 2508.5H1384.6V2492.5H1383.2ZM1388.8 2508.5H1390.2V2492.5H1388.8ZM1403.6 2508.5H1405V2492.5H1403.6ZM1406.8 2508.5H1411.8V2492.5H1406.8ZM1417.9 2508.5H1419.3V2492.5H1417.9ZM1423.5 2508.5H1424.9V2492.5H1423.5ZM1426 2508.5H1427.4V2492.5H1426ZM1428.5 2508.5H1429.9V2492.5H1428.5ZM1431.3 2508.5H1432.7V2492.5H1431.3ZM1435.1 2508.5H1436.5V2492.5H1435.1ZM1445 2508.5H1446.8V2492.5H1445ZM1448.4 2508.5H1458V2492.5H1448.4ZM1460.4 2508.5H1461.8V2492.5H1460.4ZM1463.35 2508.5H1464.75V2492.5H1463.35ZM1467.25 2508.5H1468.65V2492.5H1467.25ZM1470.95 2508.5H1472.35V2492.5H1470.95ZM1474.8 2508.5H1477.2V2492.5H1474.8ZM1479.7 2508.5H1484.7V2492.5H1479.7ZM1488.4 2508.5H1490.9V2492.5H1488.4ZM1492.55 2508.5H1493.95V2492.5H1492.55ZM1497.7 2508.5H1501.8V2492.5H1497.7ZM1503.9 2508.5H1512.3V2492.5H1503.9ZM1513.35 2508.5H1514.75V2492.5H1513.35ZM1517 2508.5H1524.7V2492.5H1517ZM1525.7 2508.5H1534V2492.5H1525.7ZM1540.65 2508.5H1542.05V2492.5H1540.65ZM1543.4 2508.5H1562V2492.5H1543.4ZM1564.25 2508.5H1565.65V2492.5H1564.25ZM1574.4 2508.5H1577.8V2492.5H1574.4ZM1581.9 2508.5H1583.7V2492.5H1581.9ZM1587.1 2508.5H1593.7V2492.5H1587.1ZM1598 2508.5H1600.8V2492.5H1598ZM1603.2 2508.5H1604.6V2492.5H1603.2ZM1607.05 2508.5H1608.45V2492.5H1607.05ZM1610.1 2508.5H1613.8V2492.5H1610.1ZM1615.45 2508.5H1616.85V2492.5H1615.45ZM1624.45 2508.5H1625.85V2492.5H1624.45ZM1631.9 2508.5H1633.3V2492.5H1631.9ZM1637.5 2508.5H1638.9V2492.5H1637.5ZM1654.5 2508.5H1655.9V2492.5H1654.5ZM1657.7 2508.5H1659.1V2492.5H1657.7ZM1666.5 2508.5H1667.9V2492.5H1666.5ZM1702.4 2508.5H1703.8V2492.5H1702.4ZM1722 2508.5H1723.4V2492.5H1722Z" fill="#000" stroke="none"/>
<polyline points="1373.5,2490.21 1379.85,2489.89 1386.2,2489.57 1392.55,2489.24 1398.9,2488.9 1405.25,2488.55 1411.6,2488.19 1417.95,2487.83 1424.3,2487.46 1430.65,2487.09 1437,2486.7 1443.35,2486.31 1449.7,2485.91 1456.05,2485.5 1462.4,2485.08 1468.75,2484.66 1475.1,2484.22 1481.45,2483.78 1487.8,2483.33 1494.15,2482.87 1500.5,2482.4 1506.85,2481.92 1513.2,2481.43 1519.55,2480.93 1525.9,2480.42 1532.25,2479.9 1538.6,2479.37 1544.95,2478.84 1551.3,2478.29 1557.65,2477.73 1564,2477.15 1570.35,2476.57 1576.7,2475.98 1583.05,2475.37 1589.4,2474.76 1595.75,2474.13 1602.1,2473.49 1608.45,2472.84 1614.8,2472.17 1621.15,2471.5 1627.5,2470.81 1633.85,2470.11 1640.2,2469.4 1646.55,2468.67 1652.9,2467.93 1659.25,2467.18 1665.6,2466.41 1671.95,2465.63 1678.3,2464.84 1684.65,2464.03 1691,2463.21 1697.35,2462.37 1703.7,2461.52 1710.05,2460.66 1716.4,2459.78 1722.75,2458.89 1729.1,2457.98 1735.45,2457.06 1741.8,2456.12 1748.15,2455.17 1754.5,2454.2" fill="none" stroke="#3064a6" stroke-width="3.3" stroke-linecap="round" stroke-linejoin="round"/>
<rect x="1363.7" y="2187.5" width="400.6" height="321" fill="none" stroke="#000" stroke-width="1.9"/>
<text x="1487.67" y="2184.7" font-size="26.6" font-family="'Liberation Sans', Arial, Helvetica, sans-serif">LT.result =</text>
<text x="1622.26" y="2184.7" font-size="26.1" font-family="'Liberation Serif', 'Times New Roman', serif">III</text>
<line x1="1363.7" y1="2504.6" x2="1350.7" y2="2504.6" stroke="#000" stroke-width="1.9"/>
<line x1="1764.3" y1="2504.6" x2="1777.3" y2="2504.6" stroke="#000" stroke-width="1.9"/>
<line x1="1363.7" y1="2440.66" x2="1350.7" y2="2440.66" stroke="#000" stroke-width="1.9"/>
<line x1="1764.3" y1="2440.66" x2="1777.3" y2="2440.66" stroke="#000" stroke-width="1.9"/>
<line x1="1363.7" y1="2376.72" x2="1350.7" y2="2376.72" stroke="#000" stroke-width="1.9"/>
<line x1="1764.3" y1="2376.72" x2="1777.3" y2="2376.72" stroke="#000" stroke-width="1.9"/>
<line x1="1363.7" y1="2312.78" x2="1350.7" y2="2312.78" stroke="#000" stroke-width="1.9"/>
<line x1="1764.3" y1="2312.78" x2="1777.3" y2="2312.78" stroke="#000" stroke-width="1.9"/>
<line x1="1363.7" y1="2248.84" x2="1350.7" y2="2248.84" stroke="#000" stroke-width="1.9"/>
<line x1="1764.3" y1="2248.84" x2="1777.3" y2="2248.84" stroke="#000" stroke-width="1.9"/>
<text x="1339.05" y="2514.05" font-size="26.8" text-anchor="end" font-family="'Liberation Sans', Arial, Helvetica, sans-serif" >0.0</text>
<text x="1339.05" y="2450.11" font-size="26.8" text-anchor="end" font-family="'Liberation Sans', Arial, Helvetica, sans-serif" >0.2</text>
<text x="1339.05" y="2386.17" font-size="26.8" text-anchor="end" font-family="'Liberation Sans', Arial, Helvetica, sans-serif" >0.4</text>
<text x="1339.05" y="2322.23" font-size="26.8" text-anchor="end" font-family="'Liberation Sans', Arial, Helvetica, sans-serif" >0.6</text>
<text x="1339.05" y="2258.29" font-size="26.8" text-anchor="end" font-family="'Liberation Sans', Arial, Helvetica, sans-serif" >0.8</text>
<line x1="1373.5" y1="1469.6" x2="1373.5" y2="1456.4" stroke="#000" stroke-width="1.9"/>
<line x1="1373.5" y1="2508.5" x2="1373.5" y2="2521.1" stroke="#000" stroke-width="1.9"/>
<text x="1373.5" y="2552.8" font-size="26.8" text-anchor="middle" font-family="'Liberation Sans', Arial, Helvetica, sans-serif" >-20</text>
<line x1="1468.75" y1="1469.6" x2="1468.75" y2="1456.4" stroke="#000" stroke-width="1.9"/>
<line x1="1468.75" y1="2508.5" x2="1468.75" y2="2521.1" stroke="#000" stroke-width="1.9"/>
<text x="1468.75" y="2552.8" font-size="26.8" text-anchor="middle" font-family="'Liberation Sans', Arial, Helvetica, sans-serif" >-10</text>
<line x1="1564" y1="1469.6" x2="1564" y2="1456.4" stroke="#000" stroke-width="1.9"/>
<line x1="1564" y1="2508.5" x2="1564" y2="2521.1" stroke="#000" stroke-width="1.9"/>
<text x="1571.5" y="2552.8" font-size="26.8" text-anchor="middle" font-family="'Liberation Sans', Arial, Helvetica, sans-serif" >0</text>
<line x1="1659.25" y1="1469.6" x2="1659.25" y2="1456.4" stroke="#000" stroke-width="1.9"/>
<line x1="1659.25" y1="2508.5" x2="1659.25" y2="2521.1" stroke="#000" stroke-width="1.9"/>
<text x="1662.65" y="2552.8" font-size="26.8" text-anchor="middle" font-family="'Liberation Sans', Arial, Helvetica, sans-serif" >10</text>
<line x1="1754.5" y1="1469.6" x2="1754.5" y2="1456.4" stroke="#000" stroke-width="1.9"/>
<line x1="1754.5" y1="2508.5" x2="1754.5" y2="2521.1" stroke="#000" stroke-width="1.9"/>
<text x="1757.9" y="2552.8" font-size="26.8" text-anchor="middle" font-family="'Liberation Sans', Arial, Helvetica, sans-serif" >20</text>
<text x="1549.6" y="1405.5" font-size="31.6" text-anchor="middle" font-family="'Liberation Sans', Arial, Helvetica, sans-serif" >ALB change effect plot</text>
<text x="1567.35" y="2597.2" font-size="26.5" text-anchor="middle" font-family="'Liberation Sans', Arial, Helvetica, sans-serif" >ALB change (g/L)</text>
<text transform="translate(1312.1,2002) rotate(-90)" font-size="26.6" text-anchor="middle" font-family="'Liberation Sans', Arial, Helvetica, sans-serif">LT.result (probability)</text>
<text x="6.1" y="42.1" font-size="46" font-family="'Liberation Sans', Arial, Helvetica, sans-serif" style="fill:#231815">A</text>
<text x="4.5" y="1397.8" font-size="46" font-family="'Liberation Sans', Arial, Helvetica, sans-serif" style="fill:#231815">B</text>
<text x="652.6" y="1397.7" font-size="46" font-family="'Liberation Sans', Arial, Helvetica, sans-serif" style="fill:#231815">C</text>
<text x="1301.8" y="1397.7" font-size="46" font-family="'Liberation Sans', Arial, Helvetica, sans-serif" style="fill:#231815">D</text></svg>
</body></html>
